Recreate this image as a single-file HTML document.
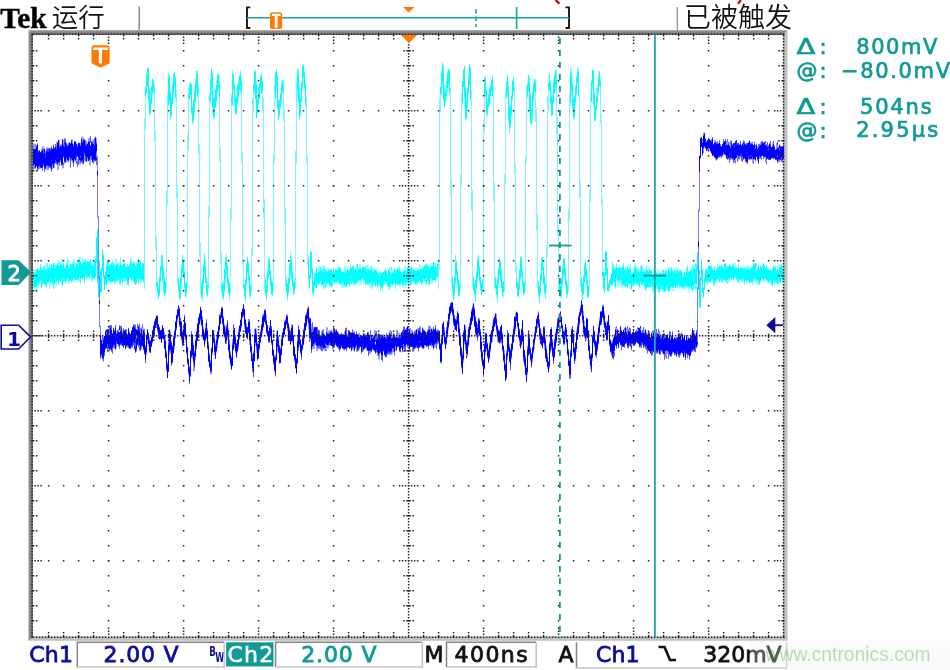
<!DOCTYPE html>
<html><head><meta charset="utf-8"><title>Tek</title>
<style>html,body{margin:0;padding:0;background:#fff;}body{width:950px;height:670px;overflow:hidden;position:relative;}svg{position:absolute;left:0;top:0;filter:blur(0.45px);}</style>
</head><body>
<svg width="950" height="670" viewBox="0 0 950 670">

<defs>
<linearGradient id="gt" x1="0" y1="0" x2="0" y2="1"><stop offset="0" stop-color="#b8b8b8"/><stop offset="0.3" stop-color="#8e8e8e"/><stop offset="1" stop-color="#727272"/></linearGradient>
<linearGradient id="gl" x1="0" y1="0" x2="1" y2="0"><stop offset="0" stop-color="#c0c0c0"/><stop offset="0.25" stop-color="#8e8e8e"/><stop offset="1" stop-color="#727272"/></linearGradient>
</defs>
<rect x="782.8" y="30" width="4.7" height="610.8" fill="#c2c2c2"/>
<rect x="28.3" y="636.4" width="759.2" height="4.4" fill="#c2c2c2"/>
<path d="M28.3 30H787.5L782.8 34.9H32.9Z" fill="url(#gt)"/>
<path d="M28.3 30L32.9 34.9V636.4L28.3 640.8Z" fill="url(#gl)"/>

<g stroke-width="1" fill="none"><path stroke="#a6ffff" d="M33.5 269.0V287.3M34.5 269.3V288.4M35.5 269.3V291.2M36.5 268.0V289.7M37.5 268.0V289.0M38.5 270.0V289.0M39.5 269.8V285.0M40.5 263.9V284.2M41.5 266.3V287.6M42.5 268.0V287.6M43.5 265.8V284.0M44.5 265.8V285.0M45.5 263.3V287.6M46.5 263.3V287.6M47.5 263.2V283.3M48.5 266.6V284.6M49.5 264.2V288.6M50.5 264.2V285.0M51.5 264.6V285.0M52.5 263.0V284.5M53.5 262.0V289.2M54.5 264.8V288.4M55.5 264.8V288.4M56.5 265.0V284.8M57.5 262.9V283.0M58.5 260.2V284.2M59.5 260.2V265.0M59.5 266.0V281.3M60.5 262.6V281.4M61.5 260.7V284.5M62.5 259.1V286.8M63.5 263.1V282.3M64.5 267.9V283.4M65.5 267.6V283.4M66.5 261.6V281.8M67.5 258.5V279.9M68.5 259.9V284.4M69.5 259.9V284.4M70.5 263.2V281.2M71.5 263.2V282.5M72.5 262.0V280.6M73.5 259.2V281.2M74.5 259.2V280.3M75.5 262.6V280.2M76.5 264.0V280.0M77.5 259.3V279.9M78.5 261.5V281.8M79.5 257.4V281.0M80.5 256.8V284.2M81.5 256.8V278.4M82.5 258.8V278.5M83.5 259.9V279.1M84.5 259.0V283.5M85.5 259.0V275.5M86.5 259.4V277.7M87.5 261.2V278.4M88.5 261.3V279.1M89.5 261.3V279.1M90.5 258.9V281.1M91.5 258.9V281.1M92.5 264.1V281.8M93.5 263.4V279.5M94.5 260.9V278.8M95.5 256.2V276.7M96.5 236.9V262.5M97.5 229.5V283.9M98.5 273.4V297.7M99.5 260.5V276.6M100.5 270.4V293.2M101.5 267.5V293.2M102.5 250.2V271.5M103.5 253.3V278.5M104.5 275.0V290.3M105.5 271.0V284.3M106.5 259.7V286.0M107.5 259.7V284.6M108.5 260.5V284.4M109.5 260.5V284.4M110.5 263.1V282.5M111.5 262.7V282.2M112.5 259.8V282.2M113.5 262.4V281.7M114.5 263.8V285.0M115.5 258.1V285.0M116.5 258.1V280.8M117.5 262.7V282.0M118.5 261.6V282.0M119.5 261.6V285.9M120.5 257.8V285.9M121.5 265.1V280.0M122.5 263.6V286.5M123.5 261.7V281.8M124.5 261.7V281.2M125.5 263.1V281.2M126.5 266.9V284.9M127.5 264.0V284.9M128.5 265.4V286.4M129.5 264.0V277.9M130.5 257.6V277.9M131.5 257.6V280.8M132.5 261.8V280.1M133.5 261.2V281.7M134.5 262.4V284.2M135.5 262.5V285.0M136.5 262.5V284.3M137.5 261.5V282.5M138.5 258.8V285.0M139.5 261.3V280.4M140.5 260.9V283.2M141.5 263.8V281.5M142.5 263.0V280.0M143.5 263.0V281.8M144.5 264.4V286.4M145.5 86.0V115.1M146.5 73.0V94.4M147.5 67.4V87.2M148.5 68.0V105.1M149.5 88.7V115.2M150.5 91.1V113.7M151.5 86.7V103.9M152.5 78.7V99.3M153.5 80.5V92.6M154.5 83.8V103.0M155.5 180.4V199.1M155.5 200.0V210.2M156.5 272.7V287.8M157.5 281.7V294.2M158.5 285.2V298.7M159.5 273.2V296.8M160.5 264.6V286.8M161.5 254.9V275.4M162.5 254.9V283.3M163.5 267.0V293.8M164.5 277.1V296.5M165.5 281.0V294.8M166.5 274.9V289.0M167.5 99.1V111.7M168.5 73.4V105.2M169.5 74.5V104.7M170.5 91.0V119.5M171.5 94.3V116.5M172.5 82.8V106.3M173.5 72.8V100.3M174.5 72.5V87.8M175.5 75.9V102.7M176.5 88.7V95.3M176.5 95.7V104.9M177.5 183.9V192.3M177.5 194.1V208.5M177.5 274.8V286.4M178.5 276.2V291.7M179.5 282.7V300.1M180.5 278.0V300.1M181.5 264.2V287.7M182.5 254.9V276.8M183.5 259.7V278.1M184.5 269.2V289.6M185.5 282.5V297.2M186.5 281.5V297.1M187.5 277.5V288.1M188.5 87.8V115.0M189.5 83.0V100.6M190.5 81.9V96.5M191.5 84.1V114.6M192.5 104.0V124.3M193.5 98.2V122.5M194.5 89.6V115.4M195.5 78.3V103.6M196.5 70.8V92.7M197.5 71.0V97.9M198.5 84.2V102.5M200.5 275.3V294.0M201.5 281.0V297.8M202.5 278.1V300.1M203.5 258.4V288.9M204.5 253.6V274.9M205.5 260.9V282.8M206.5 273.7V295.3M207.5 280.9V296.3M208.5 276.5V290.9M209.5 92.9V111.6M210.5 78.7V104.1M211.5 69.0V95.8M212.5 72.6V114.6M213.5 93.3V119.9M214.5 95.4V119.9M215.5 86.9V108.1M216.5 80.6V102.6M217.5 72.9V93.8M218.5 72.9V89.3M219.5 75.2V110.7M220.5 192.1V216.3M221.5 275.1V293.5M222.5 280.6V297.1M223.5 280.5V300.0M224.5 268.5V291.7M225.5 253.9V281.3M226.5 253.9V274.0M227.5 264.3V288.6M228.5 274.3V294.0M229.5 282.5V299.8M230.5 279.2V294.7M231.5 93.4V113.7M232.5 70.6V105.6M233.5 73.7V90.8M234.5 82.6V106.8M235.5 95.2V115.1M236.5 96.5V115.1M237.5 83.8V105.1M238.5 79.6V100.1M239.5 75.0V94.7M240.5 70.3V94.8M241.5 76.1V110.9M242.5 199.2V218.9M243.5 274.9V290.2M244.5 283.9V298.8M245.5 276.2V301.9M246.5 262.3V287.0M247.5 256.8V273.8M248.5 260.3V282.9M249.5 274.3V296.2M250.5 283.5V298.3M251.5 277.7V292.8M252.5 98.6V117.8M253.5 83.4V105.8M254.5 69.7V96.1M255.5 71.3V99.4M256.5 80.0V118.1M257.5 97.0V114.2M258.5 87.4V106.6M259.5 82.8V99.4M260.5 75.6V90.0M261.5 72.7V94.4M262.5 79.3V106.8M263.5 189.3V217.8M264.5 276.5V278.2M264.5 278.9V287.7M265.5 276.5V296.0M266.5 283.3V300.6M267.5 268.3V292.8M268.5 257.8V278.6M269.5 258.5V275.6M270.5 270.3V286.8M271.5 278.0V294.8M272.5 279.6V296.0M273.5 277.0V291.7M274.5 86.3V114.0M275.5 72.2V99.8M276.5 68.9V94.0M277.5 75.7V108.5M278.5 99.0V119.8M279.5 99.1V116.9M280.5 92.8V110.3M281.5 80.0V104.1M282.5 80.0V92.4M283.5 79.4V104.3M285.5 262.9V287.1M286.5 275.6V293.2M287.5 283.3V300.2M288.5 277.3V295.9M289.5 260.7V287.6M290.5 252.7V277.0M291.5 252.7V280.2M292.5 266.0V287.4M293.5 281.2V294.7M294.5 277.9V294.4M295.5 277.9V288.4M296.5 77.6V113.7M297.5 68.9V98.1M298.5 68.6V104.3M299.5 84.7V120.3M300.5 94.6V116.3M301.5 81.2V102.9M302.5 65.1V89.8M303.5 63.9V79.9M304.5 69.6V88.9M305.5 81.8V107.9M307.5 249.6V266.9M308.5 254.5V281.0M309.5 273.9V288.4M310.5 251.3V279.5M311.5 251.3V276.5M312.5 267.9V295.8M313.5 281.8V295.8M314.5 272.5V290.8M315.5 272.5V288.3M316.5 267.3V288.3M317.5 267.6V284.9M318.5 266.3V285.2M319.5 266.2V285.2M320.5 266.2V284.4M321.5 267.0V285.6M322.5 266.0V286.5M323.5 265.9V288.4M324.5 265.9V287.5M325.5 268.4V288.8M326.5 270.5V287.0M327.5 271.1V287.0M328.5 268.5V283.7M329.5 268.5V287.6M330.5 269.2V287.6M331.5 269.2V287.8M332.5 271.3V287.8M333.5 268.2V283.1M334.5 270.4V284.2M335.5 269.0V284.2M336.5 269.0V283.4M337.5 268.3V282.4M338.5 266.5V284.3M339.5 266.5V284.3M340.5 267.3V285.4M341.5 268.9V287.8M342.5 271.3V287.8M343.5 270.7V287.8M344.5 266.2V287.0M345.5 266.2V287.6M346.5 270.9V287.6M347.5 265.9V286.0M348.5 265.9V284.4M349.5 268.9V286.8M350.5 264.3V283.5M351.5 266.4V285.0M352.5 266.3V283.2M353.5 265.5V286.5M354.5 268.8V286.5M355.5 268.8V284.8M356.5 263.9V284.1M357.5 263.9V284.9M358.5 266.3V284.9M359.5 264.2V280.9M360.5 264.2V285.1M361.5 267.7V285.1M362.5 266.1V279.8M363.5 266.1V284.3M364.5 266.7V284.3M365.5 266.7V286.1M366.5 264.9V286.1M367.5 264.6V284.8M368.5 264.6V285.7M369.5 269.4V287.8M370.5 265.9V287.8M371.5 265.9V289.0M372.5 266.2V287.3M373.5 268.4V271.0M373.5 272.0V285.7M374.5 269.6V285.6M375.5 267.7V286.6M376.5 267.7V284.7M377.5 272.9V287.8M378.5 272.9V286.4M379.5 270.2V285.4M380.5 272.2V290.7M381.5 270.9V288.3M382.5 272.3V290.7M383.5 270.6V285.6M384.5 270.2V285.3M385.5 269.3V284.0M386.5 270.7V282.2M387.5 274.2V286.1M388.5 269.5V290.1M389.5 267.4V288.6M390.5 267.7V287.1M391.5 266.6V271.4M391.5 272.5V287.2M392.5 270.2V287.2M393.5 272.5V285.1M394.5 268.3V284.1M395.5 268.3V288.9M396.5 269.5V284.9M397.5 267.9V284.6M398.5 265.6V284.8M399.5 265.6V287.0M400.5 270.6V287.0M401.5 271.7V285.1M402.5 269.6V288.3M403.5 269.6V288.3M404.5 265.2V288.2M405.5 265.2V288.2M406.5 267.1V285.9M407.5 267.1V284.3M408.5 267.2V284.3M409.5 265.5V286.7M410.5 265.5V286.7M411.5 266.1V284.1M412.5 268.1V280.9M413.5 268.1V283.5M414.5 270.1V283.2M415.5 270.5V284.5M416.5 270.9V283.6M417.5 267.8V285.0M418.5 267.9V282.2M419.5 264.8V284.2M420.5 268.6V284.2M421.5 268.3V285.8M422.5 268.1V282.7M423.5 266.4V282.6M424.5 265.5V281.1M425.5 263.2V285.6M426.5 263.2V285.6M427.5 263.9V281.4M428.5 264.3V285.0M429.5 264.3V284.5M430.5 262.9V279.2M431.5 262.9V283.8M432.5 262.7V283.8M433.5 262.3V281.6M434.5 262.4V280.7M435.5 262.4V281.7M436.5 266.4V279.0M437.5 262.4V277.8M438.5 262.1V286.1M439.5 96.8V107.3M439.5 109.0V116.4M440.5 85.8V106.3M441.5 70.8V95.9M442.5 62.5V85.6M443.5 65.1V100.8M444.5 83.4V107.4M445.5 88.0V104.7M446.5 80.5V100.2M447.5 71.6V92.6M448.5 68.5V86.2M449.5 68.5V96.2M450.5 86.2V101.0M451.5 178.3V206.3M451.5 276.3V287.1M452.5 276.3V294.7M453.5 281.7V300.3M454.5 275.9V299.5M455.5 255.1V285.6M456.5 260.5V276.1M457.5 269.1V287.8M458.5 278.5V296.1M459.5 284.0V296.3M460.5 273.4V291.9M461.5 93.0V117.5M462.5 81.1V103.6M463.5 69.0V88.1M464.5 65.9V108.5M465.5 84.8V120.4M466.5 98.3V119.3M467.5 85.6V110.1M468.5 71.9V95.4M469.5 64.1V85.5M470.5 67.4V102.3M472.5 272.8V285.7M473.5 275.4V290.7M474.5 281.7V296.9M475.5 279.6V302.0M476.5 269.9V290.3M477.5 257.2V282.1M478.5 255.0V275.6M479.5 264.8V283.7M480.5 276.7V291.6M481.5 282.9V295.2M482.5 278.7V293.0M483.5 276.0V292.0M484.5 77.0V113.2M485.5 76.2V97.6M486.5 88.1V114.9M487.5 98.8V116.3M488.5 94.1V108.9M489.5 88.2V104.4M490.5 85.2V102.9M491.5 79.4V92.4M492.5 75.5V99.0M493.5 86.7V99.0M494.5 182.2V199.8M494.5 200.6V212.8M494.5 272.5V283.2M494.5 285.4V287.9M495.5 276.8V292.3M496.5 280.3V299.0M497.5 276.0V302.8M498.5 268.4V288.1M499.5 258.0V275.8M500.5 260.0V281.6M501.5 270.2V289.6M502.5 281.1V298.0M503.5 281.1V298.0M504.5 276.9V291.2M505.5 96.3V115.8M506.5 81.1V98.5M507.5 74.9V98.4M508.5 81.0V124.2M509.5 102.2V133.9M510.5 104.0V128.3M511.5 93.1V117.8M512.5 80.5V101.9M513.5 76.9V93.1M514.5 87.2V98.9M516.5 261.6V288.6M517.5 281.3V295.9M518.5 280.2V296.7M519.5 268.2V290.5M520.5 255.7V280.3M521.5 257.1V277.4M522.5 268.8V288.2M523.5 279.9V296.5M524.5 280.6V293.8M525.5 278.4V291.7M526.5 86.9V113.7M527.5 78.7V98.7M528.5 74.7V92.2M529.5 75.6V115.5M530.5 91.4V123.4M531.5 102.6V125.1M532.5 90.4V121.4M533.5 80.4V104.1M534.5 78.5V93.1M535.5 78.5V98.4M537.5 269.4V290.5M538.5 281.0V297.3M539.5 284.8V303.2M540.5 273.0V295.3M541.5 257.1V282.5M542.5 257.1V271.2M543.5 262.7V285.9M544.5 274.8V296.8M545.5 281.0V299.1M546.5 277.9V292.3M547.5 95.1V116.2M548.5 82.8V110.8M549.5 73.3V91.6M550.5 80.0V104.5M551.5 86.3V115.8M552.5 93.1V115.1M553.5 79.0V103.5M554.5 74.9V94.6M555.5 69.8V91.0M556.5 69.6V104.2M558.5 274.4V290.7M559.5 279.4V293.9M560.5 282.8V298.3M561.5 277.0V298.3M562.5 265.9V286.5M563.5 258.1V278.3M564.5 258.5V277.5M565.5 267.2V288.3M566.5 278.8V298.3M567.5 280.6V296.3M568.5 278.4V292.6M569.5 92.0V118.4M570.5 67.3V106.5M571.5 71.0V94.3M572.5 77.3V110.7M573.5 96.6V118.3M574.5 95.6V119.6M575.5 84.4V105.5M576.5 75.7V95.2M577.5 66.7V83.2M578.5 66.7V97.8M579.5 88.7V100.1M580.5 180.5V204.7M580.5 273.8V286.8M581.5 277.8V296.5M582.5 282.1V300.1M583.5 272.8V294.7M584.5 263.5V284.8M585.5 259.8V280.7M586.5 267.1V285.8M587.5 277.4V297.6M588.5 284.6V298.4M589.5 278.6V294.2M590.5 93.0V107.1M591.5 79.4V102.3M592.5 70.0V88.5M593.5 70.7V108.0M594.5 91.9V121.1M595.5 105.8V120.9M596.5 88.1V116.2M597.5 83.7V102.9M598.5 71.4V94.4M599.5 71.3V86.9M600.5 74.8V98.6M601.5 147.7V162.0M602.5 264.4V277.5M603.5 268.9V290.3M604.5 271.8V292.7M605.5 251.1V276.3M606.5 251.1V276.1M607.5 267.8V290.8M608.5 282.8V291.2M609.5 280.1V290.3M610.5 278.5V285.7M611.5 273.2V285.2M612.5 261.2V285.5M613.5 264.2V281.5M614.5 267.8V288.5M615.5 266.5V288.5M616.5 263.4V282.4M617.5 267.4V287.4M618.5 267.4V287.4M619.5 266.0V287.5M620.5 267.4V279.8M620.5 280.9V287.5M621.5 267.4V287.3M622.5 265.8V287.3M623.5 262.9V285.2M624.5 269.2V285.7M625.5 267.4V286.8M626.5 268.4V288.4M627.5 264.9V288.4M628.5 264.9V283.5M629.5 266.5V289.1M630.5 263.8V289.1M631.5 268.3V289.3M632.5 273.2V286.6M633.5 267.0V286.6M634.5 262.8V286.0M635.5 262.8V284.4M636.5 266.4V285.5M637.5 267.8V286.0M638.5 269.3V286.1M639.5 270.0V288.2M640.5 266.0V288.2M641.5 264.6V285.5M642.5 264.6V285.5M643.5 269.0V289.7M644.5 269.0V289.7M645.5 268.1V290.6M646.5 266.5V289.7M647.5 269.6V288.1M648.5 265.5V287.4M649.5 265.5V287.2M650.5 270.8V287.2M651.5 270.4V287.2M652.5 275.8V292.7M653.5 268.8V292.7M654.5 268.8V292.0M655.5 270.4V290.7M656.5 272.2V289.2M657.5 268.3V289.2M658.5 268.3V293.5M659.5 272.7V293.5M660.5 271.8V292.0M661.5 273.5V290.3M662.5 268.7V291.1M663.5 269.9V291.1M664.5 269.9V291.9M665.5 270.6V292.1M666.5 269.9V290.7M667.5 270.9V290.7M668.5 267.1V291.7M669.5 267.1V291.1M670.5 267.9V290.6M671.5 267.1V287.4M672.5 268.3V291.3M673.5 268.3V291.3M674.5 269.4V286.4M675.5 269.5V288.4M676.5 267.8V288.2M677.5 269.9V287.6M678.5 269.9V286.8M679.5 270.6V289.1M680.5 269.5V289.1M681.5 270.6V287.5M682.5 270.6V289.9M683.5 272.2V289.9M684.5 272.2V289.6M685.5 273.7V289.6M686.5 265.3V287.2M687.5 265.3V287.8M688.5 270.8V292.6M689.5 270.0V292.6M690.5 270.0V288.4M691.5 267.3V289.8M692.5 264.0V291.8M693.5 264.0V290.2M694.5 264.1V289.5M695.5 263.4V290.6M696.5 264.0V290.6M697.5 252.0V270.6M698.5 246.0V273.8M699.5 270.3V307.6M700.5 277.0V307.6M701.5 259.3V280.6M702.5 268.5V293.2M703.5 286.8V298.0M704.5 278.2V290.1M705.5 268.1V281.4M706.5 268.1V283.0M707.5 267.5V284.4M708.5 265.2V282.5M709.5 265.1V283.2M710.5 265.1V283.2M711.5 265.2V280.9M712.5 267.4V282.0M713.5 270.2V285.7M714.5 266.3V285.7M715.5 270.0V283.1M716.5 268.9V281.4M717.5 264.2V281.4M718.5 267.4V280.7M719.5 264.7V282.7M720.5 265.2V281.3M721.5 265.2V282.9M722.5 265.4V281.7M723.5 268.4V279.9M724.5 263.5V280.8M725.5 263.5V281.1M726.5 265.8V282.5M727.5 265.5V283.8M728.5 265.5V283.6M729.5 264.3V283.6M730.5 264.9V277.9M731.5 266.5V279.3M732.5 263.6V278.6M733.5 263.6V281.4M734.5 263.2V278.8M735.5 263.2V278.2M736.5 267.2V279.8M737.5 267.6V281.3M738.5 263.4V283.7M739.5 269.0V283.7M740.5 267.3V280.5M741.5 265.0V281.5M742.5 265.0V281.5M743.5 267.6V283.1M744.5 267.6V285.1M745.5 266.6V280.4M746.5 267.2V283.0M747.5 265.0V281.1M748.5 265.0V282.8M749.5 267.3V282.8M750.5 267.3V283.9M751.5 266.3V282.3M752.5 266.3V284.9M753.5 263.4V282.0M754.5 263.4V282.0M755.5 263.4V282.2M756.5 263.4V266.9M756.5 270.3V284.3M757.5 265.7V284.3M758.5 264.4V285.3M759.5 268.2V285.3M760.5 265.1V282.9M761.5 265.1V280.5M762.5 263.6V281.8M763.5 263.6V281.8M764.5 264.9V279.8M765.5 267.7V279.0M766.5 265.4V280.9M767.5 267.1V283.4M768.5 269.3V283.4M769.5 270.0V283.3M770.5 269.9V285.2M771.5 268.1V285.7M772.5 265.7V285.7M773.5 265.4V284.6M774.5 266.8V284.6M775.5 266.3V283.5M776.5 270.9V283.0M777.5 263.9V285.8M778.5 263.9V285.8M779.5 264.0V282.8M780.5 264.0V283.6M781.5 264.0V279.2M782.5 265.8V281.6M783.5 265.8V286.0"/><path stroke="#55ffff" d="M33.5 271.7V287.3M34.5 272.3V288.4M35.5 270.3V287.1M35.5 288.5V291.2M36.5 270.3V287.4M37.5 268.6V285.4M38.5 271.0V283.4M38.5 285.9V287.1M39.5 269.8V285.0M40.5 263.9V280.2M41.5 266.3V287.6M42.5 268.0V284.0M43.5 266.4V282.8M44.5 266.4V284.3M45.5 269.8V285.0M46.5 268.9V286.7M47.5 263.2V283.3M48.5 268.0V282.2M49.5 266.3V282.5M49.5 283.4V288.6M50.5 268.1V282.6M51.5 264.6V284.5M52.5 265.9V282.8M53.5 262.0V289.2M54.5 264.8V267.1M54.5 267.9V284.6M55.5 264.8V282.7M56.5 265.5V284.8M57.5 264.8V280.1M58.5 262.9V284.2M59.5 262.2V263.4M59.5 266.2V280.7M60.5 262.6V281.4M61.5 265.3V279.4M62.5 259.1V261.9M62.5 264.6V286.8M63.5 263.1V282.0M64.5 268.0V281.4M65.5 267.6V283.4M66.5 261.6V279.9M67.5 258.5V278.3M68.5 265.0V281.6M69.5 267.7V281.2M70.5 264.1V281.0M71.5 263.9V282.5M72.5 263.9V280.6M73.5 262.0V281.2M74.5 262.6V280.3M75.5 267.5V280.2M76.5 264.0V279.9M77.5 259.3V279.2M78.5 263.3V281.8M79.5 257.4V274.7M79.5 276.4V277.0M79.5 278.5V281.0M80.5 262.1V284.2M81.5 263.7V278.3M82.5 258.8V261.6M82.5 263.0V278.5M83.5 260.4V279.1M84.5 259.9V283.5M85.5 259.4V274.4M86.5 263.0V277.7M87.5 261.2V278.4M88.5 261.3V276.5M89.5 261.9V277.6M90.5 259.9V272.9M90.5 277.8V279.0M91.5 260.2V261.4M91.5 265.7V277.6M92.5 264.1V281.8M93.5 263.4V264.9M93.5 265.5V279.5M94.5 260.9V278.2M95.5 256.2V276.7M96.5 237.1V262.4M97.5 229.5V283.2M98.5 273.6V297.7M99.5 260.5V276.1M100.5 270.4V292.0M101.5 268.1V292.0M102.5 250.2V271.1M103.5 255.1V278.1M104.5 275.2V290.3M105.5 271.9V284.1M106.5 264.5V286.0M107.5 260.9V281.2M108.5 260.9V281.2M108.5 283.1V284.3M109.5 261.7V262.9M109.5 264.9V281.5M110.5 264.2V282.5M111.5 263.1V282.2M112.5 259.8V281.8M113.5 263.8V281.0M114.5 267.3V281.5M115.5 260.4V261.6M115.5 265.9V282.4M116.5 259.3V260.5M116.5 263.7V280.8M117.5 262.7V280.7M118.5 265.0V279.8M119.5 265.0V283.7M120.5 257.8V283.7M121.5 265.3V279.5M122.5 265.6V286.5M123.5 263.6V281.7M124.5 263.1V278.7M125.5 266.2V281.1M126.5 267.0V281.1M127.5 264.0V283.6M128.5 266.0V286.4M129.5 264.0V277.5M130.5 259.7V277.9M131.5 261.8V280.8M132.5 263.9V279.5M133.5 261.2V281.7M134.5 262.4V284.2M135.5 265.8V285.0M136.5 263.7V282.5M137.5 261.6V279.8M138.5 258.8V285.0M139.5 261.3V278.7M140.5 260.9V283.2M141.5 267.1V281.5M142.5 263.1V280.0M143.5 263.1V281.8M144.5 265.6V285.3M145.5 87.1V107.5M146.5 73.8V93.8M147.5 67.4V86.6M148.5 68.6V99.7M149.5 88.7V115.2M150.5 98.2V113.7M151.5 86.7V103.6M152.5 78.7V93.9M153.5 80.5V92.6M154.5 87.3V100.6M155.5 187.0V198.1M156.5 273.9V287.1M157.5 281.8V293.6M158.5 287.2V298.7M159.5 277.9V296.3M160.5 266.9V282.2M161.5 254.9V270.8M162.5 255.8V280.2M163.5 267.1V291.4M164.5 278.1V296.5M165.5 281.1V293.9M166.5 277.7V287.0M167.5 100.8V111.4M168.5 73.4V105.2M169.5 74.5V104.5M170.5 91.4V119.5M171.5 97.4V116.1M172.5 84.8V104.1M173.5 73.8V93.0M173.5 93.8V95.0M174.5 72.5V87.5M175.5 76.9V97.9M176.5 90.7V94.4M176.5 95.9V100.4M176.5 101.5V102.7M177.5 195.9V207.7M177.5 276.1V286.0M178.5 277.3V289.8M178.5 290.5V291.7M179.5 284.2V298.6M180.5 278.3V298.6M181.5 267.2V283.1M182.5 254.9V273.2M183.5 260.0V277.5M184.5 271.5V289.0M185.5 282.9V297.2M186.5 281.8V293.2M187.5 278.3V286.5M188.5 88.6V89.8M188.5 91.7V109.0M189.5 84.9V99.0M190.5 81.9V95.3M191.5 84.1V113.3M192.5 106.7V124.3M193.5 100.2V122.1M194.5 90.2V114.3M195.5 79.5V102.3M196.5 70.8V90.1M197.5 71.0V96.1M198.5 84.6V101.4M200.5 276.3V287.7M201.5 282.9V297.8M202.5 279.2V300.1M203.5 263.8V284.8M204.5 253.6V274.1M205.5 266.0V282.7M206.5 277.6V293.1M207.5 281.4V296.3M208.5 277.3V288.4M209.5 94.9V109.8M210.5 79.0V102.2M211.5 69.0V93.4M212.5 72.6V107.8M212.5 111.6V112.8M213.5 93.3V117.9M214.5 98.0V117.0M215.5 89.1V108.0M216.5 81.8V83.0M216.5 84.5V101.3M217.5 74.3V93.7M218.5 75.1V89.1M219.5 81.8V108.9M220.5 194.5V206.6M221.5 276.7V291.9M222.5 282.8V297.1M223.5 281.8V300.0M224.5 269.1V291.6M225.5 256.6V279.0M226.5 256.6V273.3M227.5 264.8V283.5M228.5 277.8V294.0M229.5 282.6V299.8M230.5 279.2V291.7M231.5 94.8V113.0M232.5 70.6V105.6M233.5 73.7V88.5M234.5 83.8V105.8M235.5 96.6V113.8M236.5 98.3V113.9M237.5 85.1V103.5M238.5 82.5V98.0M238.5 98.8V100.1M239.5 76.0V90.0M240.5 70.3V90.8M241.5 79.3V108.3M242.5 204.4V215.8M243.5 276.4V288.6M244.5 285.3V295.9M245.5 279.5V301.9M246.5 264.4V284.7M247.5 256.8V272.0M248.5 262.3V281.6M249.5 274.9V295.9M250.5 284.3V298.3M251.5 282.6V291.4M252.5 100.2V114.8M253.5 85.3V102.6M254.5 69.7V92.4M255.5 71.3V99.1M256.5 81.1V118.1M257.5 97.9V113.6M258.5 87.4V104.7M259.5 83.2V99.1M260.5 76.2V89.5M261.5 72.7V93.6M262.5 81.6V106.6M263.5 193.0V214.0M264.5 280.0V283.0M264.5 283.7V287.6M265.5 278.8V294.3M266.5 285.6V300.6M267.5 270.8V291.6M268.5 257.8V277.9M269.5 258.5V275.2M270.5 270.4V285.9M271.5 278.3V294.8M272.5 282.7V296.0M273.5 279.8V284.8M273.5 286.5V290.9M274.5 87.1V109.9M275.5 72.5V98.1M276.5 68.9V87.4M277.5 75.7V108.1M278.5 99.4V119.8M279.5 99.6V116.3M280.5 92.8V108.0M281.5 83.8V101.1M282.5 80.7V92.4M283.5 79.4V99.8M285.5 265.3V286.6M286.5 278.8V293.2M287.5 283.4V300.2M288.5 278.1V292.7M288.5 294.6V295.9M289.5 263.8V284.5M290.5 253.5V254.7M290.5 255.9V274.2M291.5 259.9V278.5M292.5 271.4V286.8M293.5 281.9V294.7M294.5 278.7V290.3M294.5 291.8V293.0M295.5 278.7V282.1M295.5 283.0V287.8M296.5 83.1V85.3M296.5 86.4V112.4M297.5 68.9V95.4M298.5 68.6V102.9M299.5 88.3V120.3M300.5 97.3V114.7M301.5 81.9V102.6M302.5 65.1V89.5M303.5 63.9V77.5M304.5 71.6V88.3M305.5 82.4V105.4M307.5 251.0V263.3M308.5 257.9V280.5M309.5 275.1V288.4M310.5 251.6V278.2M311.5 251.6V273.6M312.5 269.0V294.4M313.5 282.0V294.4M314.5 274.5V286.0M315.5 273.0V287.3M316.5 267.3V287.9M317.5 272.9V283.2M318.5 266.3V284.9M319.5 272.1V284.4M320.5 267.0V281.2M321.5 270.5V285.6M322.5 270.6V286.5M323.5 266.0V288.4M324.5 268.4V286.9M325.5 269.5V282.2M325.5 283.6V288.8M326.5 270.5V284.8M327.5 271.4V283.7M328.5 270.1V283.0M329.5 269.8V285.5M330.5 269.7V286.4M331.5 269.4V286.4M332.5 272.2V280.7M332.5 281.9V286.2M333.5 268.2V282.3M334.5 271.8V282.5M335.5 269.5V282.2M336.5 269.5V283.4M337.5 268.3V280.8M338.5 267.2V282.3M339.5 267.2V283.7M340.5 267.3V285.4M341.5 271.1V283.4M342.5 271.3V287.8M343.5 272.1V284.6M344.5 269.2V287.0M345.5 270.9V287.0M346.5 271.6V287.0M347.5 269.7V284.4M348.5 270.5V283.8M349.5 269.5V286.8M350.5 264.3V282.3M351.5 267.0V285.0M352.5 266.3V282.5M353.5 265.5V283.4M354.5 270.5V284.8M355.5 269.7V283.4M356.5 269.3V284.1M357.5 263.9V281.2M358.5 267.4V268.6M358.5 269.2V281.2M359.5 265.7V266.9M359.5 267.6V280.6M360.5 267.6V282.0M361.5 269.5V279.7M362.5 267.2V278.4M363.5 267.1V279.8M364.5 267.1V280.5M365.5 266.7V284.6M366.5 264.9V267.9M366.5 270.6V283.6M367.5 268.6V284.8M368.5 269.3V285.7M369.5 269.4V283.4M370.5 270.4V282.9M371.5 266.2V289.0M372.5 268.4V287.3M373.5 269.2V270.4M373.5 272.0V285.7M374.5 269.6V283.0M375.5 269.6V286.6M376.5 270.4V284.7M377.5 273.2V287.8M378.5 273.2V286.4M379.5 270.2V273.4M379.5 274.9V285.1M380.5 273.2V290.7M381.5 270.9V273.7M381.5 274.1V288.3M382.5 272.5V290.7M383.5 271.9V285.3M384.5 270.6V284.2M385.5 269.3V284.0M386.5 270.7V282.2M387.5 274.4V286.1M388.5 269.5V290.1M389.5 267.4V288.6M390.5 267.7V270.2M390.5 271.6V284.8M390.5 285.3V287.1M391.5 266.6V270.2M391.5 272.9V284.3M391.5 285.9V287.1M392.5 271.1V284.4M393.5 272.5V285.1M394.5 268.9V282.9M395.5 268.9V288.9M396.5 270.9V284.1M397.5 267.9V284.6M398.5 268.6V284.8M399.5 268.1V284.5M400.5 270.8V284.5M401.5 271.9V273.1M401.5 273.5V281.7M402.5 271.7V276.2M402.5 276.8V285.6M403.5 270.6V285.6M404.5 270.3V285.3M405.5 270.3V285.3M406.5 270.7V285.9M407.5 267.2V282.5M408.5 268.3V281.6M409.5 268.2V281.6M410.5 268.2V285.4M411.5 266.1V284.1M412.5 268.1V269.8M412.5 270.2V280.9M413.5 268.1V283.5M414.5 270.5V283.2M415.5 271.0V284.5M416.5 271.0V283.6M417.5 267.8V285.0M418.5 270.4V281.2M419.5 264.8V269.1M419.5 270.4V281.2M420.5 268.6V282.5M421.5 269.5V285.8M422.5 268.1V282.7M423.5 266.4V278.7M424.5 265.5V281.1M425.5 264.2V281.3M426.5 265.9V279.0M426.5 280.1V283.6M427.5 263.9V281.1M428.5 266.2V285.0M429.5 268.8V284.5M430.5 267.1V278.7M431.5 265.9V279.2M432.5 266.6V281.6M433.5 262.3V279.9M434.5 266.4V280.1M435.5 266.9V281.7M436.5 267.5V269.8M436.5 270.5V276.0M436.5 276.7V279.0M437.5 264.3V277.8M438.5 262.1V263.6M438.5 264.8V282.8M439.5 100.4V107.1M439.5 109.8V115.2M440.5 86.9V104.3M441.5 71.2V95.1M442.5 62.5V83.8M443.5 65.1V99.0M444.5 84.8V86.0M444.5 86.8V107.4M445.5 90.0V91.2M445.5 91.7V101.8M446.5 81.4V96.2M447.5 73.0V87.8M447.5 90.4V91.6M448.5 69.8V84.7M449.5 70.5V93.5M450.5 87.9V93.1M451.5 179.8V201.5M451.5 276.7V284.2M452.5 276.7V290.7M453.5 285.1V300.3M454.5 276.8V294.6M455.5 255.1V284.6M456.5 260.5V276.0M457.5 269.4V286.6M458.5 278.6V296.1M459.5 284.4V296.3M460.5 278.1V289.0M461.5 97.9V115.0M462.5 81.1V103.1M463.5 69.0V87.7M464.5 65.9V99.7M465.5 87.7V120.4M466.5 99.0V119.3M467.5 87.7V107.2M468.5 75.9V93.4M469.5 64.1V84.1M470.5 67.4V98.6M472.5 274.5V280.0M472.5 280.5V285.5M473.5 276.4V290.7M474.5 283.5V294.0M475.5 279.8V302.0M476.5 271.8V289.3M477.5 260.9V278.2M478.5 255.0V275.2M479.5 267.0V281.3M480.5 277.1V290.4M481.5 282.9V295.2M482.5 279.2V292.0M483.5 278.7V284.9M483.5 285.7V288.3M484.5 77.0V107.6M485.5 76.2V95.7M486.5 89.4V114.9M487.5 101.9V116.3M488.5 94.5V108.3M489.5 88.2V104.4M490.5 85.4V96.3M491.5 79.6V91.3M492.5 75.5V96.8M493.5 87.2V98.5M494.5 187.3V196.1M494.5 275.1V281.2M495.5 277.0V288.1M496.5 284.6V295.1M497.5 278.9V296.5M497.5 297.8V302.8M498.5 268.4V284.8M499.5 258.0V275.5M500.5 260.9V280.2M501.5 270.5V288.2M502.5 282.2V295.8M503.5 281.4V292.4M504.5 279.8V291.1M505.5 96.9V106.7M505.5 107.7V114.5M506.5 82.1V98.1M507.5 74.9V96.2M508.5 81.0V83.1M508.5 85.6V122.3M509.5 104.2V133.9M510.5 105.8V127.7M511.5 95.9V115.1M512.5 80.5V98.4M513.5 76.9V92.5M514.5 87.4V97.0M516.5 267.3V287.9M517.5 282.5V295.9M518.5 282.3V296.7M519.5 269.0V289.3M520.5 255.7V279.4M521.5 257.4V276.9M522.5 270.4V286.4M523.5 281.1V296.5M524.5 281.8V293.8M525.5 278.6V289.0M526.5 86.9V111.5M527.5 82.5V98.0M528.5 74.7V91.9M529.5 77.8V110.6M530.5 93.9V123.4M531.5 108.4V125.1M532.5 93.1V119.1M533.5 84.1V101.7M534.5 79.5V92.3M535.5 81.0V98.2M537.5 269.9V286.4M538.5 281.9V295.8M539.5 286.2V303.2M540.5 273.9V293.2M541.5 257.5V281.0M542.5 257.5V271.0M543.5 266.5V284.6M544.5 275.1V292.2M545.5 283.0V294.7M545.5 295.6V299.1M546.5 279.1V292.2M547.5 96.9V101.3M547.5 103.7V104.9M547.5 105.5V116.1M548.5 83.5V106.7M549.5 73.3V89.6M550.5 80.8V103.3M551.5 96.1V115.8M552.5 98.3V115.1M553.5 80.4V103.5M554.5 75.3V92.9M555.5 69.8V88.2M556.5 69.6V71.5M556.5 71.9V101.9M558.5 279.4V284.8M558.5 285.3V289.1M559.5 281.0V292.6M560.5 285.2V297.0M561.5 279.2V297.0M562.5 266.1V285.5M563.5 258.1V276.6M564.5 258.5V275.2M565.5 268.5V286.2M566.5 280.4V298.3M567.5 285.5V295.0M568.5 280.6V290.4M569.5 95.2V106.3M570.5 67.3V103.0M571.5 71.0V91.2M572.5 81.6V108.9M573.5 99.5V118.3M574.5 96.2V119.6M575.5 86.3V105.3M576.5 76.3V94.5M577.5 71.0V83.0M578.5 69.7V96.3M579.5 91.6V92.8M579.5 93.3V99.5M580.5 187.9V197.8M580.5 277.6V280.1M580.5 282.1V282.4M580.5 283.1V284.2M581.5 278.0V292.3M582.5 283.7V300.1M583.5 276.8V294.7M584.5 264.3V282.8M585.5 259.8V276.4M586.5 269.5V285.6M587.5 280.0V297.6M588.5 285.6V298.4M589.5 279.2V289.5M590.5 94.8V106.9M591.5 80.9V101.9M592.5 70.0V88.2M593.5 70.7V104.7M594.5 92.9V121.1M595.5 106.0V120.9M596.5 95.9V109.7M597.5 84.8V102.9M598.5 75.3V93.6M599.5 71.3V85.6M600.5 79.4V98.6M601.5 147.8V161.8M602.5 266.6V276.6M603.5 272.2V289.7M604.5 273.0V292.7M605.5 251.8V276.0M606.5 251.8V275.0M607.5 267.8V290.7M608.5 283.2V291.2M609.5 280.5V287.9M610.5 278.5V285.7M611.5 273.4V284.2M612.5 261.2V285.5M613.5 264.2V281.5M614.5 269.2V282.9M615.5 266.5V287.2M616.5 263.4V279.6M617.5 267.8V281.1M618.5 267.9V281.4M619.5 266.0V281.4M619.5 283.7V284.9M620.5 268.4V279.4M620.5 280.9V282.4M621.5 268.3V270.0M621.5 270.6V283.5M622.5 265.8V285.9M623.5 262.9V285.0M624.5 269.6V285.7M625.5 267.4V286.8M626.5 270.4V286.7M627.5 267.2V287.2M628.5 269.3V283.5M629.5 269.2V284.3M630.5 263.8V267.7M630.5 268.3V283.7M631.5 273.0V289.3M632.5 273.5V285.7M633.5 271.9V286.0M634.5 266.7V268.8M634.5 269.5V284.4M635.5 266.4V284.4M636.5 267.8V284.4M637.5 269.3V285.5M638.5 269.5V286.0M639.5 272.2V286.4M640.5 266.0V283.1M641.5 266.2V284.3M642.5 266.2V285.2M643.5 271.6V282.7M644.5 271.6V286.8M645.5 272.3V290.6M646.5 266.5V289.7M647.5 270.0V286.9M648.5 270.7V287.4M649.5 269.6V286.9M650.5 270.8V286.9M651.5 270.4V285.8M652.5 275.8V287.3M652.5 288.1V289.3M653.5 273.3V274.5M653.5 275.7V292.0M654.5 273.9V290.7M655.5 270.4V289.9M656.5 273.1V286.1M657.5 272.2V288.4M658.5 273.0V291.9M659.5 273.0V292.0M660.5 271.8V288.9M661.5 273.5V288.9M662.5 268.7V290.3M663.5 270.7V290.7M664.5 273.4V291.9M665.5 270.6V292.1M666.5 269.9V287.5M667.5 273.4V289.4M668.5 269.2V291.7M669.5 269.2V290.6M670.5 267.9V269.5M670.5 270.6V287.4M671.5 267.1V287.0M672.5 270.9V288.0M673.5 271.8V287.3M673.5 288.8V290.0M674.5 269.4V286.4M675.5 269.5V271.7M675.5 272.9V288.4M676.5 267.8V285.2M677.5 269.9V287.6M678.5 272.2V283.6M679.5 270.6V286.2M679.5 287.1V288.3M680.5 269.5V286.9M681.5 271.3V286.9M682.5 273.8V275.0M682.5 276.8V287.9M683.5 276.2V287.2M684.5 272.6V287.4M685.5 273.7V286.5M686.5 269.7V287.2M687.5 267.1V287.8M688.5 271.8V286.7M689.5 270.8V288.5M690.5 270.8V286.4M691.5 267.3V289.8M692.5 271.3V273.8M692.5 274.8V291.8M693.5 264.1V290.2M694.5 268.6V284.6M695.5 263.4V284.7M695.5 286.3V289.5M696.5 264.0V288.2M697.5 252.0V270.4M698.5 246.0V273.2M699.5 270.6V307.5M700.5 277.3V307.5M701.5 259.3V279.5M702.5 269.2V293.1M703.5 287.1V298.0M704.5 278.7V290.0M705.5 269.0V281.4M706.5 269.0V281.4M707.5 270.5V284.4M708.5 265.2V280.6M709.5 265.9V282.5M710.5 265.2V282.3M711.5 266.1V279.8M712.5 268.6V278.3M713.5 270.3V285.7M714.5 266.3V285.7M715.5 270.0V282.4M716.5 268.9V279.8M717.5 264.2V279.0M718.5 268.1V279.0M719.5 264.7V282.7M720.5 266.2V280.8M721.5 265.4V279.3M721.5 280.1V282.9M722.5 267.3V281.7M723.5 269.2V279.9M724.5 264.0V280.8M725.5 263.5V281.1M726.5 267.2V282.5M727.5 265.8V283.8M728.5 266.4V280.0M729.5 264.3V278.5M730.5 266.0V276.9M731.5 266.5V279.3M732.5 265.8V278.3M733.5 265.8V281.4M734.5 266.3V277.2M735.5 267.2V278.2M736.5 267.6V279.8M737.5 268.5V281.3M738.5 263.4V282.0M739.5 269.0V279.5M740.5 267.3V280.0M741.5 268.0V281.0M742.5 268.0V279.5M743.5 268.3V281.8M744.5 268.7V285.1M745.5 266.6V280.4M746.5 268.1V283.0M747.5 266.4V267.6M747.5 268.1V280.4M748.5 269.6V281.1M749.5 268.3V282.6M750.5 268.3V283.9M751.5 267.6V282.3M752.5 267.6V284.9M753.5 263.4V278.0M753.5 279.0V280.2M754.5 263.4V279.0M755.5 263.4V279.6M756.5 263.4V265.9M756.5 271.1V282.2M757.5 269.4V282.5M758.5 264.4V284.5M759.5 270.0V284.5M760.5 266.0V282.9M761.5 267.8V278.4M762.5 266.7V278.9M763.5 263.6V280.8M764.5 264.9V279.0M765.5 268.2V278.0M766.5 265.4V280.9M767.5 267.1V280.7M768.5 269.5V282.1M769.5 270.0V282.1M770.5 269.9V283.3M771.5 269.8V285.2M772.5 268.1V285.7M773.5 265.4V280.1M774.5 267.3V283.5M775.5 266.3V282.5M776.5 270.9V282.9M777.5 270.3V284.0M778.5 270.7V284.0M779.5 267.3V281.3M780.5 265.8V283.6M781.5 264.0V277.8M782.5 267.7V281.6M783.5 268.4V281.4"/><path stroke="#00ffff" d="M33.5 271.7V286.8M34.5 272.4V275.5M34.5 276.6V285.8M34.5 286.3V286.8M35.5 272.4V287.1M36.5 270.5V287.4M37.5 268.6V284.9M38.5 271.0V282.3M39.5 269.8V282.2M40.5 267.2V279.6M41.5 271.2V281.0M41.5 283.0V287.6M42.5 269.2V283.8M43.5 266.5V267.7M43.5 269.8V282.8M44.5 269.8V283.4M45.5 270.6V271.0M45.5 271.8V284.3M46.5 268.9V286.7M47.5 269.0V270.4M47.5 271.2V282.7M48.5 268.1V282.0M49.5 266.3V280.4M50.5 270.0V282.6M51.5 264.7V279.0M52.5 268.9V282.7M53.5 263.0V284.6M54.5 267.9V284.1M55.5 267.9V277.5M56.5 265.5V281.8M57.5 264.8V279.9M58.5 266.0V283.0M59.5 266.2V280.4M60.5 263.8V281.3M61.5 265.4V278.5M62.5 265.3V277.5M62.5 278.2V284.5M63.5 264.6V277.8M63.5 280.6V282.0M64.5 268.9V279.2M64.5 279.6V280.8M65.5 267.9V281.4M66.5 265.0V278.8M67.5 265.0V278.2M68.5 268.7V278.0M69.5 268.7V281.0M70.5 264.1V280.8M71.5 265.4V279.7M72.5 264.6V279.6M73.5 262.8V278.7M74.5 265.4V277.3M75.5 267.5V280.0M76.5 264.6V279.8M77.5 264.6V279.2M78.5 265.9V279.3M79.5 261.5V266.0M79.5 266.4V274.1M80.5 262.1V279.3M81.5 265.1V278.3M82.5 263.6V277.4M83.5 263.0V277.3M84.5 261.4V271.1M84.5 273.0V280.2M85.5 261.4V274.4M86.5 263.9V276.7M87.5 261.3V274.0M87.5 275.5V276.0M88.5 262.4V276.5M89.5 261.9V277.3M90.5 259.9V272.2M91.5 265.7V274.9M91.5 275.7V276.9M92.5 265.7V278.0M93.5 266.1V278.8M94.5 263.2V264.9M94.5 265.5V278.2M95.5 258.8V276.5M96.5 237.6V262.2M97.5 230.6V283.1M98.5 273.9V297.3M99.5 260.6V276.0M100.5 270.4V292.0M101.5 268.2V292.0M102.5 250.4V271.1M103.5 255.5V278.0M104.5 275.5V289.5M105.5 271.9V283.9M106.5 267.3V284.6M107.5 261.0V278.1M108.5 264.8V280.0M109.5 265.3V280.0M110.5 264.9V282.2M111.5 264.2V281.8M112.5 262.7V263.6M112.5 265.2V281.7M113.5 264.6V280.5M114.5 270.1V281.5M115.5 265.9V282.4M116.5 265.9V276.7M116.5 279.5V280.4M117.5 263.7V280.3M118.5 268.5V278.8M119.5 268.0V279.8M120.5 264.4V270.4M120.5 271.4V283.4M121.5 265.9V278.8M122.5 266.2V281.8M123.5 263.7V278.7M124.5 264.2V277.9M125.5 266.2V278.7M126.5 267.9V279.9M127.5 265.4V283.6M128.5 266.0V283.3M129.5 266.7V276.9M130.5 259.7V277.5M131.5 264.1V280.1M132.5 264.9V278.5M133.5 263.2V280.4M134.5 262.8V282.0M135.5 265.9V284.3M136.5 265.8V267.2M136.5 267.7V279.8M136.5 281.3V282.5M137.5 263.7V277.6M138.5 261.6V280.4M139.5 261.9V278.7M140.5 261.0V275.3M140.5 276.3V278.8M141.5 268.4V280.1M142.5 263.5V278.9M143.5 263.9V281.8M144.5 268.5V284.3M145.5 87.7V106.8M146.5 76.0V93.0M147.5 68.0V86.3M148.5 68.6V99.4M149.5 89.0V90.9M149.5 91.4V113.3M150.5 98.3V113.5M151.5 86.9V103.5M152.5 78.8V93.6M153.5 80.7V91.8M154.5 87.5V100.0M155.5 188.0V197.2M156.5 274.2V286.3M157.5 283.2V292.4M158.5 287.5V297.9M159.5 278.5V294.4M160.5 267.1V281.0M161.5 254.9V257.0M161.5 257.9V270.7M162.5 259.7V260.9M162.5 263.5V279.2M163.5 270.7V288.1M164.5 279.0V294.8M165.5 281.5V293.8M166.5 278.1V282.7M166.5 283.1V285.6M167.5 101.1V107.9M168.5 77.8V105.0M169.5 75.6V101.1M170.5 91.4V117.2M171.5 99.5V115.6M172.5 85.7V104.1M173.5 74.6V75.8M173.5 77.9V92.5M174.5 72.8V84.9M175.5 78.1V79.3M175.5 80.3V97.1M176.5 91.6V92.9M176.5 96.7V98.7M177.5 196.1V206.4M177.5 280.4V282.7M177.5 283.5V285.0M178.5 279.4V280.6M178.5 281.3V288.9M179.5 286.1V298.3M180.5 278.8V298.3M181.5 267.6V282.9M182.5 255.8V257.0M182.5 257.7V273.0M183.5 260.6V277.1M184.5 271.7V287.1M185.5 283.9V297.1M186.5 282.5V293.2M187.5 280.3V286.3M188.5 94.3V108.1M189.5 86.2V98.6M190.5 83.0V94.6M191.5 84.3V113.1M192.5 107.1V122.5M193.5 100.7V119.7M194.5 90.8V109.0M194.5 110.6V111.8M195.5 82.5V100.3M196.5 70.9V72.1M196.5 74.0V90.1M197.5 74.1V96.0M198.5 89.6V101.1M200.5 276.3V286.9M201.5 283.7V297.1M202.5 279.2V294.0M202.5 295.9V297.1M203.5 265.8V283.5M204.5 256.3V257.5M204.5 259.2V272.6M205.5 267.7V282.2M206.5 278.8V293.0M207.5 284.6V295.4M208.5 277.3V287.9M209.5 96.5V109.4M210.5 79.2V100.7M211.5 69.2V85.6M211.5 86.5V88.5M212.5 74.2V106.7M213.5 98.1V117.9M214.5 98.2V116.0M215.5 89.2V107.2M216.5 85.3V101.3M217.5 74.3V91.8M218.5 75.1V87.0M219.5 84.5V105.1M220.5 197.9V202.8M220.5 204.1V206.0M221.5 276.7V289.1M222.5 283.7V295.8M223.5 285.4V297.2M224.5 270.4V290.3M225.5 261.3V277.6M226.5 257.7V259.4M226.5 260.1V269.9M227.5 265.9V283.1M228.5 278.4V293.0M229.5 283.1V295.1M230.5 280.4V291.2M231.5 99.0V111.3M232.5 74.0V105.6M233.5 74.7V88.4M234.5 85.2V102.7M235.5 97.0V112.7M236.5 98.7V113.9M237.5 85.1V103.5M238.5 82.5V96.6M239.5 76.8V89.8M240.5 74.5V85.8M241.5 83.2V106.3M242.5 205.6V214.4M243.5 279.1V288.4M244.5 285.3V295.9M245.5 279.8V298.8M246.5 264.5V283.6M247.5 257.8V272.0M248.5 262.8V279.8M249.5 275.3V292.5M250.5 285.7V296.2M251.5 282.6V291.4M252.5 100.7V109.5M252.5 111.2V112.7M253.5 85.3V102.6M254.5 71.8V91.9M255.5 71.5V99.1M256.5 84.2V117.8M257.5 100.4V113.0M258.5 87.8V88.8M258.5 89.9V104.0M259.5 84.1V99.1M260.5 77.6V86.5M261.5 74.4V92.7M262.5 81.9V104.8M263.5 195.2V211.8M264.5 280.3V281.3M264.5 284.0V284.4M264.5 285.0V287.2M265.5 280.0V293.9M266.5 286.0V297.2M267.5 273.3V291.5M268.5 262.2V277.9M269.5 259.3V274.5M270.5 270.4V285.5M271.5 282.0V294.6M272.5 283.0V293.5M273.5 280.3V280.8M273.5 281.4V284.2M274.5 88.1V109.7M275.5 73.2V97.2M276.5 71.1V86.9M277.5 77.3V79.5M277.5 80.7V107.2M278.5 103.5V119.4M279.5 100.3V113.8M279.5 115.1V115.6M280.5 94.2V105.3M280.5 106.5V107.7M281.5 84.1V99.5M282.5 80.7V92.2M283.5 82.8V83.3M283.5 86.6V98.6M285.5 268.3V286.4M286.5 280.3V291.7M287.5 283.9V296.8M288.5 278.4V292.5M289.5 264.6V283.1M290.5 255.9V271.5M291.5 260.4V261.1M291.5 262.8V278.0M292.5 272.8V286.6M293.5 282.4V294.5M294.5 281.9V290.1M295.5 279.4V280.1M295.5 284.2V287.7M296.5 86.7V109.8M297.5 71.6V89.5M298.5 74.4V75.6M298.5 76.5V102.3M299.5 88.3V89.5M299.5 92.2V116.7M300.5 97.3V114.6M301.5 84.5V101.2M302.5 65.9V70.3M302.5 70.7V88.8M303.5 65.6V77.4M304.5 72.4V72.8M304.5 73.8V88.2M305.5 83.9V102.9M307.5 251.2V263.2M308.5 259.8V278.8M309.5 275.7V288.3M310.5 252.0V278.1M311.5 252.0V272.3M312.5 269.1V292.3M313.5 282.3V292.3M314.5 275.9V285.7M315.5 273.0V287.3M316.5 267.6V287.9M317.5 272.9V282.7M318.5 272.1V284.8M319.5 272.1V282.6M320.5 269.8V280.8M321.5 270.5V280.3M321.5 282.6V283.8M322.5 272.3V284.2M323.5 268.7V284.2M324.5 270.9V283.4M325.5 269.5V280.6M325.5 285.2V286.9M326.5 271.6V283.7M327.5 271.4V282.7M328.5 270.1V283.0M329.5 271.8V285.5M330.5 269.7V285.1M331.5 269.4V286.2M332.5 272.8V280.0M332.5 283.2V284.4M333.5 271.3V282.3M334.5 271.8V282.1M335.5 270.4V282.2M336.5 270.3V282.7M337.5 270.3V280.6M338.5 268.2V282.1M339.5 268.2V283.3M340.5 268.9V283.7M341.5 271.1V283.4M342.5 272.1V280.9M343.5 272.1V282.6M344.5 273.3V284.6M345.5 271.6V285.2M346.5 273.0V286.0M347.5 269.7V283.7M348.5 270.5V281.8M348.5 282.4V283.8M349.5 271.1V285.5M350.5 267.0V282.3M351.5 269.3V276.3M351.5 278.3V280.3M351.5 282.3V283.2M352.5 266.4V282.3M353.5 269.2V283.4M354.5 271.1V283.6M355.5 269.7V282.9M356.5 270.7V283.4M357.5 263.9V267.5M357.5 269.7V281.2M358.5 269.6V281.2M359.5 269.2V279.9M360.5 268.6V280.8M361.5 270.0V279.3M362.5 267.2V277.9M363.5 267.9V279.2M364.5 268.4V279.9M365.5 268.1V284.6M366.5 271.8V282.7M367.5 269.0V270.2M367.5 272.5V283.6M368.5 269.3V283.2M369.5 271.5V283.4M370.5 270.9V282.3M371.5 270.4V282.1M372.5 271.5V283.9M373.5 272.5V283.2M374.5 269.6V283.0M375.5 270.4V285.9M376.5 270.8V281.8M377.5 273.2V283.4M378.5 273.5V282.9M379.5 275.8V284.6M380.5 273.2V286.9M381.5 274.1V286.5M382.5 272.7V273.9M382.5 274.8V287.0M383.5 272.3V284.7M384.5 271.9V281.0M385.5 270.2V282.2M386.5 271.2V282.1M387.5 274.7V285.0M388.5 270.2V286.8M389.5 271.6V284.8M389.5 285.3V286.8M390.5 275.3V284.3M391.5 272.9V283.7M392.5 273.0V284.3M393.5 273.8V284.7M394.5 272.4V281.7M395.5 269.5V284.9M396.5 272.7V283.7M397.5 268.6V284.5M398.5 269.8V284.5M399.5 269.4V284.4M400.5 270.8V283.9M401.5 273.8V281.7M402.5 272.4V275.0M402.5 277.2V285.1M403.5 271.6V283.2M404.5 270.6V283.2M405.5 272.6V281.6M406.5 271.8V282.5M407.5 268.3V281.0M408.5 269.2V280.4M409.5 269.2V279.2M410.5 270.8V285.4M411.5 268.0V282.5M412.5 272.0V280.9M413.5 269.4V281.1M414.5 270.7V281.9M415.5 271.1V283.1M416.5 272.2V283.1M417.5 270.8V282.2M418.5 270.4V280.9M419.5 270.4V280.3M420.5 269.0V281.3M421.5 269.5V282.5M422.5 268.3V282.6M423.5 267.5V278.7M424.5 266.7V268.7M424.5 269.1V279.1M425.5 264.2V279.1M425.5 280.0V281.2M426.5 266.6V277.7M426.5 280.2V283.6M427.5 265.9V278.5M427.5 279.2V281.1M428.5 268.7V280.7M428.5 283.0V283.9M429.5 269.5V284.2M430.5 268.8V278.7M431.5 266.1V273.4M431.5 275.3V277.1M432.5 266.6V279.8M433.5 262.7V279.9M434.5 266.4V280.1M435.5 267.5V280.8M436.5 267.7V269.8M436.5 270.6V276.0M437.5 264.3V277.3M438.5 264.8V282.4M439.5 102.0V106.3M439.5 110.6V112.6M440.5 87.4V104.2M441.5 73.4V90.0M441.5 91.6V92.8M442.5 64.9V81.1M443.5 69.4V99.0M444.5 89.7V106.4M445.5 91.9V101.7M446.5 81.4V94.8M447.5 73.4V87.8M448.5 69.8V83.9M449.5 70.5V92.1M450.5 88.2V90.0M450.5 90.6V91.0M451.5 189.0V189.8M451.5 191.6V201.0M451.5 281.4V283.5M452.5 279.0V289.8M453.5 285.8V300.1M454.5 278.2V294.6M455.5 263.7V282.5M456.5 262.2V274.4M457.5 271.2V283.1M458.5 279.6V294.9M459.5 284.6V294.1M460.5 279.9V287.8M461.5 98.1V108.9M461.5 110.3V111.5M461.5 112.3V114.7M462.5 81.2V102.9M463.5 70.1V86.7M464.5 66.7V96.2M464.5 96.7V97.9M465.5 88.0V117.8M466.5 102.8V118.8M467.5 87.8V107.0M468.5 77.6V93.2M469.5 64.7V83.9M470.5 67.9V98.5M472.5 275.2V279.1M472.5 280.9V283.7M473.5 277.9V290.3M474.5 284.7V294.0M475.5 280.0V297.9M476.5 272.8V287.5M477.5 261.4V277.6M478.5 256.1V271.4M479.5 267.1V280.3M480.5 277.5V287.7M481.5 283.7V294.8M482.5 280.2V290.8M483.5 279.2V284.8M483.5 286.0V286.7M484.5 79.9V81.9M484.5 83.6V106.6M485.5 77.7V95.7M486.5 89.6V112.9M487.5 102.9V113.0M488.5 94.7V95.7M488.5 97.5V107.7M489.5 88.9V103.2M490.5 85.9V96.1M491.5 80.3V90.5M492.5 77.4V96.1M493.5 87.9V89.8M493.5 92.9V93.6M493.5 94.9V96.6M494.5 189.0V194.3M494.5 275.8V281.0M495.5 278.2V287.8M496.5 284.7V294.7M497.5 279.2V296.5M498.5 268.8V283.6M499.5 259.5V275.0M500.5 262.0V278.8M501.5 271.3V287.4M502.5 283.2V295.8M503.5 281.8V292.4M504.5 280.3V282.3M504.5 284.9V286.8M504.5 287.5V288.5M505.5 97.3V102.9M505.5 103.9V106.6M505.5 107.8V109.1M505.5 109.5V110.6M506.5 82.9V97.5M507.5 75.3V91.1M508.5 87.3V119.2M509.5 107.1V128.0M510.5 108.0V124.1M510.5 124.6V126.4M511.5 96.2V114.9M512.5 81.1V98.2M513.5 79.1V92.0M514.5 88.1V96.0M516.5 268.8V287.6M517.5 282.9V295.4M518.5 283.9V296.6M519.5 270.0V289.1M520.5 257.4V258.3M520.5 258.7V259.9M520.5 261.0V278.6M521.5 258.0V273.3M522.5 270.5V284.7M523.5 281.8V294.0M524.5 283.7V292.5M525.5 281.5V288.3M526.5 87.5V110.0M527.5 85.0V95.7M528.5 75.6V90.7M529.5 78.5V79.7M529.5 82.4V109.6M530.5 94.6V95.8M530.5 96.7V123.0M531.5 109.1V124.0M532.5 93.2V94.9M532.5 95.7V113.6M533.5 84.6V101.1M534.5 79.5V92.0M535.5 82.1V97.7M537.5 270.4V286.3M538.5 282.1V294.5M539.5 286.6V298.3M539.5 299.4V300.6M540.5 274.9V293.0M541.5 261.7V279.4M542.5 257.5V270.4M543.5 266.7V283.5M544.5 276.2V291.7M545.5 284.8V294.3M546.5 280.7V290.4M547.5 109.0V115.7M548.5 84.0V104.9M549.5 74.8V89.1M550.5 81.4V103.3M551.5 96.7V112.3M551.5 112.9V115.0M552.5 98.8V115.0M553.5 82.3V102.7M554.5 77.1V92.9M555.5 70.3V84.8M556.5 78.8V97.8M556.5 98.2V99.4M558.5 280.1V280.6M558.5 281.8V284.7M559.5 281.7V291.8M560.5 286.1V295.9M561.5 279.8V294.7M562.5 268.9V283.6M563.5 258.9V273.8M564.5 260.1V261.4M564.5 262.3V275.0M565.5 269.0V284.9M566.5 280.6V293.3M567.5 285.5V294.3M568.5 280.7V289.6M569.5 95.3V105.2M570.5 73.4V75.4M570.5 76.8V101.0M570.5 101.8V102.2M571.5 73.6V89.9M572.5 85.4V105.0M573.5 99.5V117.3M574.5 98.7V117.3M575.5 87.6V102.1M576.5 77.9V93.5M577.5 71.2V82.1M578.5 71.5V94.8M579.5 93.3V97.2M580.5 277.8V279.9M581.5 278.0V291.3M582.5 283.8V296.0M582.5 298.1V299.3M583.5 277.1V293.8M584.5 265.5V282.7M585.5 262.6V275.3M586.5 270.7V284.9M587.5 282.3V296.8M588.5 285.9V296.3M589.5 281.1V287.7M590.5 97.3V105.2M591.5 81.3V101.9M592.5 70.1V84.6M593.5 70.8V101.5M593.5 102.4V103.6M594.5 93.2V120.2M595.5 106.1V120.2M596.5 97.3V108.4M597.5 88.0V101.9M598.5 78.0V91.9M599.5 71.4V85.3M600.5 81.9V98.3M601.5 148.0V159.1M602.5 267.8V275.0M603.5 272.5V289.0M604.5 273.4V292.3M605.5 251.9V276.0M606.5 251.9V273.9M607.5 269.0V290.2M608.5 284.9V290.8M609.5 280.6V287.9M610.5 278.5V285.2M611.5 273.4V284.0M612.5 267.8V283.8M613.5 268.0V279.7M614.5 269.2V281.9M615.5 269.7V287.2M616.5 267.8V277.1M617.5 268.1V280.2M618.5 267.9V281.1M619.5 268.8V280.3M620.5 268.4V279.2M621.5 268.4V269.5M621.5 271.3V282.4M622.5 266.6V276.0M622.5 277.3V285.9M623.5 267.0V284.3M624.5 269.6V285.2M625.5 269.2V286.7M626.5 270.8V284.8M627.5 267.2V287.2M628.5 269.5V282.0M629.5 269.2V283.7M630.5 270.1V283.7M631.5 273.5V288.6M632.5 273.7V282.2M632.5 284.4V285.3M633.5 271.9V284.2M634.5 266.7V268.2M634.5 269.5V284.2M635.5 267.5V281.3M636.5 271.1V283.0M637.5 272.3V283.0M638.5 269.5V283.4M639.5 273.5V286.4M640.5 271.6V281.2M641.5 269.2V283.0M642.5 271.6V285.2M643.5 271.7V282.3M644.5 271.7V285.8M645.5 272.6V286.8M646.5 269.3V288.1M647.5 270.7V286.9M648.5 271.9V286.5M649.5 269.6V286.5M650.5 271.0V286.5M651.5 271.0V284.0M651.5 284.6V285.3M652.5 276.2V285.5M652.5 286.0V287.3M653.5 276.2V286.2M654.5 275.2V290.0M655.5 273.1V289.9M656.5 273.4V284.8M657.5 274.8V284.6M658.5 275.5V288.8M659.5 274.5V291.9M660.5 272.5V285.5M660.5 286.1V288.5M661.5 274.2V287.0M662.5 273.3V286.5M662.5 287.7V288.8M663.5 270.7V289.1M664.5 273.7V290.7M665.5 272.9V290.1M666.5 270.9V284.3M667.5 274.5V289.3M668.5 269.3V291.2M669.5 272.0V288.6M670.5 274.3V287.0M671.5 268.3V285.7M672.5 270.9V288.0M673.5 273.2V287.3M674.5 270.5V285.5M675.5 274.7V288.2M676.5 272.9V284.9M677.5 269.9V286.8M678.5 274.9V283.6M679.5 270.8V286.2M680.5 271.4V285.7M681.5 271.3V286.7M682.5 277.8V287.9M683.5 276.4V286.8M684.5 272.6V287.4M685.5 274.7V285.0M686.5 271.7V285.6M687.5 267.1V270.9M687.5 271.9V286.3M688.5 271.8V286.7M689.5 272.2V288.5M690.5 270.8V285.5M691.5 271.0V288.4M692.5 273.0V273.8M692.5 275.9V286.1M693.5 267.7V277.4M693.5 281.1V286.7M694.5 268.7V284.2M695.5 268.4V283.1M695.5 286.3V288.2M696.5 266.3V284.7M697.5 252.3V269.5M698.5 246.8V272.5M699.5 270.8V307.3M700.5 277.5V307.3M701.5 260.0V279.4M702.5 269.7V293.0M703.5 288.0V297.1M704.5 279.0V289.7M705.5 270.9V272.1M705.5 272.5V281.4M706.5 270.5V281.4M707.5 270.8V283.0M708.5 265.9V280.6M709.5 266.4V282.3M710.5 266.1V281.0M711.5 267.4V278.3M712.5 269.4V278.3M713.5 270.3V282.0M714.5 270.0V283.1M715.5 270.7V282.4M716.5 270.1V278.9M717.5 268.1V278.3M718.5 269.3V278.4M719.5 266.2V280.8M720.5 267.8V271.7M720.5 272.3V279.9M721.5 266.1V279.0M722.5 267.3V281.5M723.5 269.4V279.2M724.5 264.0V279.9M725.5 263.5V268.4M725.5 269.7V279.9M726.5 268.5V279.9M727.5 267.6V280.4M728.5 266.4V278.5M729.5 264.9V278.3M730.5 266.7V276.6M731.5 266.9V279.1M732.5 266.3V278.3M733.5 266.3V280.4M734.5 268.9V277.2M735.5 267.6V276.4M736.5 269.0V278.6M737.5 268.5V278.7M738.5 267.5V282.0M739.5 270.2V278.7M740.5 268.0V280.0M741.5 268.0V281.0M742.5 268.2V278.8M743.5 269.0V279.5M744.5 269.1V281.7M745.5 269.7V279.8M746.5 268.6V280.4M747.5 268.6V279.6M748.5 269.6V281.0M749.5 270.2V282.6M750.5 268.9V280.7M751.5 267.6V281.8M752.5 267.6V281.2M753.5 265.1V275.9M753.5 276.7V277.9M754.5 263.4V264.6M754.5 265.4V279.0M755.5 263.4V278.6M756.5 271.1V279.6M757.5 269.5V279.6M758.5 267.7V282.5M759.5 270.0V282.3M760.5 266.0V280.5M761.5 267.8V278.2M762.5 270.1V278.9M763.5 263.6V280.8M764.5 265.8V278.0M765.5 268.6V277.9M766.5 267.7V279.5M767.5 269.3V280.7M768.5 269.9V282.1M769.5 270.1V280.1M770.5 270.1V280.1M771.5 270.3V271.5M771.5 272.3V280.9M772.5 269.8V277.9M772.5 278.5V285.7M773.5 265.7V279.8M774.5 268.1V281.9M775.5 267.3V281.9M776.5 271.0V280.0M776.5 281.3V282.5M777.5 270.7V271.5M777.5 273.7V283.0M778.5 271.5V280.8M779.5 267.4V281.3M780.5 267.3V283.2M781.5 265.8V277.1M782.5 267.7V281.3M783.5 268.4V280.7"/><path stroke="#7ff7ff" d="M144.5 118.1V288.9M145.5 96.7V130.1M154.5 88.2V142.0M155.5 130.5V250.5M156.5 235.8V282.6M166.5 190.2V287.1M167.5 91.9V205.0M176.5 91.0V198.5M177.5 189.8V286.1M187.5 132.9V285.5M188.5 98.1V150.1M198.5 93.5V154.0M199.5 144.1V256.7M200.5 242.6V287.4M208.5 206.6V285.9M209.5 99.8V217.4M219.5 96.5V161.6M220.5 147.3V264.7M221.5 252.3V285.6M230.5 207.5V290.9M231.5 102.8V219.4M241.5 91.5V163.3M242.5 151.3V264.4M243.5 259.6V284.3M251.5 247.8V291.1M252.5 103.2V256.0M253.5 89.1V112.1M262.5 91.5V111.6M263.5 97.9V208.1M264.5 199.1V287.3M273.5 154.6V289.1M274.5 86.6V163.6M283.5 89.1V121.8M284.5 109.9V224.4M285.5 207.9V285.8M295.5 150.8V287.3M296.5 83.4V163.9M306.5 96.7V163.2M307.5 155.3V264.9M438.5 261.1V288.8M439.5 102.2V270.5M440.5 93.9V112.3M450.5 88.3V194.9M451.5 183.0V282.9M460.5 174.5V287.8M461.5 94.1V185.4M471.5 90.8V210.9M472.5 190.0V285.4M483.5 119.6V288.0M484.5 96.3V132.8M493.5 87.0V201.5M494.5 183.1V287.6M504.5 174.6V288.4M505.5 90.1V184.3M514.5 88.9V174.1M515.5 164.9V273.1M516.5 265.7V279.2M525.5 155.9V288.0M526.5 87.8V163.3M535.5 91.6V121.5M536.5 107.7V230.6M537.5 214.4V284.2M546.5 245.4V292.0M547.5 100.4V256.9M548.5 89.9V109.9M556.5 88.1V135.3M557.5 117.1V235.2M558.5 225.7V286.2M568.5 209.0V289.3M569.5 96.5V220.4M579.5 89.0V197.5M580.5 182.0V286.0M589.5 189.7V289.8M590.5 93.3V202.4M600.5 86.6V123.3M601.5 113.7V204.7M602.5 198.3V272.2"/><path stroke="#9a9aff" d="M33.5 143.1V171.5M34.5 143.8V168.5M35.5 143.8V168.5M36.5 144.8V166.2M37.5 143.4V170.9M38.5 150.7V169.4M39.5 150.2V169.0M40.5 151.9V169.0M41.5 148.8V167.8M42.5 146.3V170.5M43.5 146.3V166.4M44.5 148.6V171.6M45.5 150.4V169.7M46.5 147.5V169.7M47.5 147.5V170.1M48.5 148.2V170.1M49.5 148.1V168.1M50.5 148.1V168.4M51.5 146.4V171.5M52.5 148.9V169.2M53.5 144.5V168.4M54.5 147.1V168.4M55.5 144.0V164.0M56.5 141.5V164.8M57.5 141.5V170.1M58.5 139.8V170.1M59.5 139.8V165.5M60.5 144.2V161.9M61.5 144.2V165.6M62.5 138.8V168.3M63.5 139.7V158.1M63.5 162.4V168.3M64.5 138.0V163.6M65.5 138.0V163.0M66.5 142.5V162.5M67.5 143.4V161.4M68.5 142.7V161.8M69.5 142.5V160.3M70.5 143.3V167.4M71.5 139.4V160.5M72.5 139.4V163.0M73.5 143.9V166.7M74.5 141.4V161.2M75.5 141.4V161.2M76.5 143.6V163.8M77.5 144.4V157.1M77.5 158.4V166.6M78.5 142.8V164.4M79.5 142.8V164.6M80.5 142.8V164.6M81.5 136.5V163.0M82.5 136.5V164.4M83.5 138.1V164.4M84.5 139.8V160.7M85.5 139.8V161.9M86.5 141.0V161.9M87.5 142.4V160.9M88.5 138.1V161.0M89.5 138.1V165.4M90.5 136.0V143.0M90.5 145.4V165.4M91.5 141.2V160.0M92.5 139.6V163.0M93.5 139.6V163.4M94.5 138.1V161.6M95.5 136.7V161.6M96.5 138.1V164.9M97.5 168.6V178.4M98.5 258.7V272.4M99.5 298.2V305.5M100.5 333.6V358.6M101.5 340.0V357.2M102.5 335.2V359.1M103.5 337.4V361.3M104.5 336.2V356.1M105.5 330.2V349.4M106.5 329.6V348.7M107.5 329.1V352.1M108.5 329.4V348.7M109.5 325.4V333.5M109.5 334.2V350.3M110.5 325.3V349.8M111.5 325.3V351.5M112.5 333.3V353.6M113.5 327.7V347.7M114.5 330.4V348.4M115.5 325.1V349.9M116.5 331.5V348.4M117.5 330.0V344.1M118.5 329.1V346.4M119.5 325.5V330.3M119.5 332.1V348.6M120.5 326.1V344.8M121.5 325.9V345.4M122.5 331.6V346.1M123.5 328.4V348.0M124.5 330.2V345.1M125.5 329.6V349.2M126.5 329.1V347.5M127.5 333.7V346.8M128.5 328.1V347.9M129.5 331.6V348.8M130.5 333.7V349.0M131.5 330.3V347.5M132.5 327.0V347.6M133.5 324.5V345.1M134.5 324.5V349.5M135.5 324.8V352.8M136.5 329.4V351.3M137.5 323.9V345.1M138.5 325.6V347.2M139.5 323.8V350.2M140.5 328.3V351.1M141.5 327.0V349.5M142.5 324.3V346.2M143.5 328.6V350.3M144.5 328.6V354.6M145.5 345.1V363.0M146.5 334.2V355.0M147.5 329.6V343.7M148.5 331.5V346.3M149.5 337.1V352.6M150.5 340.2V352.8M151.5 337.0V346.9M152.5 329.7V343.6M153.5 325.0V336.3M154.5 320.8V335.8M155.5 317.7V328.0M156.5 315.2V327.9M157.5 315.2V331.7M158.5 324.6V338.3M159.5 326.9V339.4M160.5 330.2V339.1M161.5 329.6V343.0M162.5 325.1V339.0M163.5 328.0V340.0M164.5 332.3V349.3M165.5 337.0V358.4M166.5 349.7V371.5M167.5 361.9V377.9M168.5 338.3V371.9M169.5 329.4V354.5M170.5 331.0V353.4M171.5 340.4V365.6M172.5 345.4V363.1M173.5 336.0V353.5M174.5 330.4V349.4M175.5 321.1V338.6M176.5 314.7V330.4M177.5 309.1V322.5M178.5 305.4V316.4M179.5 307.4V327.0M180.5 317.2V335.9M181.5 321.0V340.7M182.5 330.5V346.3M183.5 323.7V344.3M184.5 314.9V337.1M185.5 322.6V340.5M186.5 333.8V354.4M187.5 346.9V364.7M188.5 358.1V374.9M189.5 366.2V384.2M190.5 350.1V377.3M191.5 331.3V358.2M192.5 334.6V358.7M193.5 342.7V371.3M194.5 349.9V371.3M195.5 338.5V359.7M196.5 329.7V349.2M197.5 323.2V341.3M198.5 316.9V334.1M199.5 312.9V324.6M200.5 306.8V321.9M201.5 309.7V326.5M202.5 315.9V338.8M203.5 326.6V340.9M204.5 331.9V347.2M205.5 323.0V342.0M206.5 319.6V339.4M207.5 328.1V349.6M208.5 341.2V362.0M209.5 353.1V367.6M210.5 360.0V374.4M211.5 347.3V374.4M212.5 329.9V355.4M213.5 330.3V343.5M214.5 337.4V355.3M215.5 342.2V358.8M216.5 336.9V352.7M217.5 331.2V348.0M218.5 324.5V339.5M219.5 314.3V332.6M220.5 311.9V324.2M221.5 306.7V318.2M222.5 306.7V325.1M223.5 316.6V334.9M224.5 324.0V337.8M225.5 326.6V344.1M226.5 324.8V344.1M227.5 320.2V339.5M228.5 328.5V352.5M229.5 339.2V359.8M230.5 351.1V366.4M231.5 355.7V369.5M232.5 338.9V365.8M233.5 324.6V350.2M234.5 327.8V347.8M235.5 334.9V352.8M236.5 343.3V357.8M237.5 339.3V352.3M238.5 328.7V349.1M239.5 325.4V339.8M240.5 319.0V332.2M241.5 311.4V328.7M242.5 308.4V318.6M243.5 304.3V316.4M244.5 309.0V329.1M245.5 318.7V334.0M246.5 323.0V337.8M247.5 327.1V339.3M248.5 319.1V333.4M249.5 319.1V345.0M250.5 329.2V352.8M251.5 343.6V361.1M252.5 353.7V372.2M253.5 350.5V377.1M254.5 328.4V361.9M255.5 328.4V346.1M256.5 328.7V352.9M257.5 342.7V360.4M258.5 342.9V358.4M259.5 334.3V349.3M260.5 329.7V342.8M261.5 323.4V337.5M262.5 314.5V333.8M263.5 313.3V328.1M264.5 309.0V322.1M265.5 309.0V325.1M266.5 315.2V334.1M267.5 324.6V335.0M268.5 330.7V342.7M269.5 325.6V342.7M270.5 320.1V337.6M271.5 326.2V345.1M272.5 339.8V356.2M273.5 349.2V364.6M274.5 355.0V371.5M275.5 354.6V376.3M276.5 331.3V361.8M277.5 330.4V351.1M278.5 336.3V353.3M279.5 344.9V363.4M280.5 347.4V363.2M281.5 335.8V355.6M282.5 331.9V345.7M283.5 327.9V338.3M284.5 320.8V334.8M285.5 318.3V329.7M286.5 314.2V325.0M287.5 314.2V331.4M288.5 322.7V340.4M289.5 327.1V341.5M290.5 330.4V344.4M291.5 324.5V341.4M292.5 324.5V342.9M293.5 334.8V356.1M294.5 345.7V362.1M295.5 353.9V368.9M296.5 357.6V373.4M297.5 334.7V363.7M298.5 325.5V351.1M299.5 329.0V346.5M300.5 339.3V353.9M301.5 344.1V359.7M302.5 335.6V350.6M303.5 328.5V345.1M304.5 323.0V339.1M305.5 314.7V330.5M306.5 312.1V326.6M307.5 308.3V321.2M308.5 306.4V329.7M309.5 316.8V341.8M310.5 318.0V341.1M311.5 324.0V352.9M312.5 322.3V349.3M313.5 327.2V349.0M314.5 327.2V349.0M315.5 327.3V345.2M316.5 327.3V350.9M317.5 327.3V350.9M318.5 329.8V349.1M319.5 329.8V349.1M320.5 335.4V349.6M321.5 330.8V351.1M322.5 329.2V351.2M323.5 329.2V349.2M324.5 333.9V350.8M325.5 335.8V348.0M325.5 348.6V351.2M326.5 327.3V351.2M327.5 327.3V348.7M328.5 330.4V348.7M329.5 330.4V345.5M330.5 330.2V345.7M331.5 330.2V345.8M332.5 331.4V349.5M333.5 327.7V349.5M334.5 328.3V347.8M335.5 329.0V345.1M336.5 329.0V346.8M337.5 331.7V347.3M338.5 332.8V349.6M339.5 334.5V351.3M340.5 334.5V349.4M341.5 332.7V347.6M342.5 333.9V348.5M343.5 334.4V350.6M344.5 331.2V350.6M345.5 328.0V348.9M346.5 327.6V351.1M347.5 335.0V348.5M348.5 330.2V347.7M349.5 330.2V348.9M350.5 332.0V348.1M351.5 332.4V351.3M352.5 329.3V349.9M353.5 330.9V350.3M354.5 330.9V351.5M355.5 334.4V348.2M356.5 331.4V352.0M357.5 334.2V352.0M358.5 332.7V351.0M359.5 332.7V349.2M360.5 335.0V346.9M361.5 335.1V353.5M362.5 335.7V351.9M363.5 333.0V351.5M364.5 333.9V349.1M365.5 334.3V348.4M366.5 334.6V350.4M367.5 332.2V350.8M368.5 332.2V355.6M369.5 335.0V353.9M370.5 330.2V353.9M371.5 334.8V351.9M372.5 334.8V349.4M373.5 335.8V350.5M374.5 330.1V351.2M375.5 330.1V342.0M375.5 343.4V353.4M376.5 331.4V352.6M377.5 334.8V355.9M378.5 334.8V359.3M379.5 334.0V359.3M380.5 334.0V353.1M381.5 334.5V359.8M382.5 334.5V361.4M383.5 334.3V351.5M384.5 334.3V355.9M385.5 337.3V357.3M386.5 333.3V357.1M387.5 335.5V354.6M388.5 334.2V354.4M389.5 330.4V354.5M390.5 330.4V355.1M391.5 331.3V355.1M392.5 335.3V353.6M393.5 335.3V351.7M394.5 335.6V355.2M395.5 336.7V351.0M396.5 329.8V351.0M397.5 329.8V347.3M398.5 332.8V347.3M399.5 332.8V352.2M400.5 333.6V352.2M401.5 332.5V347.7M402.5 330.0V352.2M403.5 326.9V348.9M404.5 326.5V351.6M405.5 329.6V351.7M406.5 327.1V346.3M407.5 326.2V348.0M408.5 326.2V348.0M409.5 327.9V350.7M410.5 327.9V347.2M411.5 330.1V346.9M412.5 330.1V350.0M413.5 332.7V349.9M414.5 330.9V349.9M415.5 329.8V348.3M416.5 329.5V348.3M417.5 328.2V347.7M418.5 328.2V351.3M419.5 325.9V347.9M420.5 325.9V347.3M421.5 332.9V348.1M422.5 327.5V349.2M423.5 328.6V349.2M424.5 330.6V348.2M425.5 331.2V346.0M426.5 332.5V347.1M427.5 330.4V346.6M428.5 325.6V349.2M429.5 325.6V345.8M430.5 326.7V345.6M431.5 328.7V347.2M432.5 328.7V347.2M433.5 326.7V349.2M434.5 329.1V347.6M435.5 325.4V347.6M436.5 330.8V348.6M437.5 329.5V344.2M438.5 330.9V343.8M439.5 331.0V350.0M440.5 342.9V363.4M441.5 336.4V363.4M442.5 322.7V344.8M443.5 321.6V336.7M444.5 326.9V344.3M445.5 337.1V349.4M446.5 326.5V344.8M447.5 320.7V338.4M448.5 313.1V330.3M449.5 306.6V324.3M450.5 303.0V315.6M451.5 301.4V311.5M452.5 301.4V315.8M453.5 307.1V325.2M454.5 315.0V330.0M455.5 318.7V330.0M456.5 316.3V331.3M457.5 311.2V325.0M458.5 313.5V336.6M459.5 322.5V345.5M460.5 333.2V357.3M461.5 346.7V368.6M462.5 351.4V374.3M463.5 330.3V362.8M464.5 324.4V343.7M465.5 325.1V351.0M466.5 340.1V358.5M467.5 335.6V356.4M468.5 327.0V347.0M469.5 323.4V337.8M470.5 317.1V329.9M471.5 309.0V325.1M472.5 305.4V321.0M473.5 303.2V318.3M474.5 307.1V326.7M475.5 315.5V335.2M476.5 321.6V336.8M477.5 324.3V340.8M478.5 317.9V336.7M479.5 317.9V335.9M480.5 329.3V351.8M481.5 336.6V361.8M482.5 350.9V366.7M483.5 359.5V377.0M484.5 342.1V369.4M485.5 332.8V355.1M486.5 332.9V350.8M487.5 342.4V358.5M488.5 348.5V362.8M489.5 342.3V359.7M490.5 333.9V352.1M491.5 329.9V343.9M492.5 322.9V342.2M493.5 318.2V332.4M494.5 315.3V327.0M495.5 313.3V326.0M496.5 313.8V334.1M497.5 325.0V342.2M498.5 328.9V342.5M499.5 330.5V343.3M500.5 326.6V343.1M501.5 324.8V343.3M502.5 332.3V351.8M503.5 345.3V362.3M504.5 349.9V371.3M505.5 363.3V381.0M506.5 350.5V379.2M507.5 330.2V359.8M508.5 333.1V352.2M509.5 343.8V362.6M510.5 349.1V370.1M511.5 343.4V359.3M512.5 334.5V350.9M513.5 325.8V342.9M514.5 316.4V334.9M515.5 312.7V330.9M516.5 311.9V321.2M517.5 311.9V328.6M518.5 322.7V337.6M519.5 328.4V346.2M520.5 334.2V348.4M521.5 328.2V346.5M522.5 320.0V341.7M523.5 331.7V362.1M524.5 349.8V366.3M525.5 355.2V375.1M526.5 365.5V382.3M527.5 345.6V375.1M528.5 331.6V356.5M529.5 334.2V354.9M530.5 346.9V362.1M531.5 353.2V367.3M532.5 347.3V362.4M533.5 339.3V353.3M534.5 331.5V349.2M535.5 325.9V339.5M536.5 318.7V332.8M537.5 314.9V328.3M538.5 311.6V327.8M539.5 319.1V339.9M540.5 328.0V344.4M541.5 333.4V345.6M542.5 335.4V348.3M543.5 326.7V343.2M544.5 326.4V350.3M545.5 337.1V358.5M546.5 345.9V362.1M547.5 353.5V368.9M548.5 361.3V372.5M549.5 341.5V368.6M550.5 329.2V353.6M551.5 327.4V349.8M552.5 338.8V356.9M553.5 347.0V363.8M554.5 338.8V358.2M555.5 332.2V349.5M556.5 326.4V343.4M557.5 318.4V334.4M558.5 314.5V326.6M559.5 313.6V326.3M560.5 311.3V322.5M561.5 316.2V328.7M562.5 323.9V339.1M563.5 330.3V345.3M564.5 329.6V345.3M565.5 324.0V338.8M566.5 327.5V344.4M567.5 338.9V355.9M568.5 348.9V366.2M569.5 358.8V378.7M570.5 349.3V378.7M571.5 328.7V357.6M572.5 325.9V343.2M573.5 336.5V355.4M574.5 347.1V363.9M575.5 342.0V360.8M576.5 329.9V352.2M577.5 323.2V339.9M578.5 315.5V333.8M579.5 311.4V326.7M580.5 305.2V316.0M581.5 300.7V313.9M582.5 304.1V323.4M583.5 310.8V335.5M584.5 320.8V337.7M585.5 327.1V341.3M586.5 317.8V340.8M587.5 318.4V338.2M588.5 330.8V351.4M589.5 340.4V359.8M590.5 353.7V369.3M591.5 353.2V372.4M592.5 334.3V360.9M593.5 326.1V342.6M594.5 330.6V347.2M595.5 339.0V355.3M596.5 340.9V357.6M597.5 332.2V351.5M598.5 324.6V344.3M599.5 317.1V336.7M600.5 311.4V325.4M601.5 310.9V325.3M602.5 304.7V317.3M603.5 304.7V325.0M604.5 311.1V328.4M605.5 321.4V335.0M606.5 323.4V340.5M607.5 320.6V340.3M608.5 315.1V333.1M609.5 324.8V346.5M610.5 338.9V352.3M611.5 341.3V356.1M612.5 340.2V358.3M613.5 337.6V359.2M614.5 333.9V356.3M615.5 327.1V346.4M616.5 326.6V348.7M617.5 329.0V344.4M618.5 332.5V348.2M619.5 332.7V342.6M620.5 325.9V345.2M621.5 329.2V350.1M622.5 332.1V346.7M623.5 329.8V346.6M624.5 327.7V347.8M625.5 327.3V343.8M626.5 328.5V344.5M627.5 325.9V347.6M628.5 328.7V348.5M629.5 327.5V345.8M630.5 328.5V346.6M631.5 333.8V350.1M632.5 332.2V344.4M633.5 329.0V343.7M634.5 332.9V345.8M635.5 331.7V344.4M636.5 330.1V341.9M637.5 327.4V343.1M638.5 327.7V343.9M639.5 327.7V347.9M640.5 326.0V347.9M641.5 330.6V347.7M642.5 330.1V344.6M643.5 327.1V348.1M644.5 330.5V346.9M645.5 329.2V348.7M646.5 332.2V350.2M647.5 333.3V353.4M648.5 331.4V351.0M649.5 332.2V351.5M650.5 337.1V353.4M651.5 332.6V355.7M652.5 330.7V355.1M653.5 330.5V352.2M654.5 335.1V354.8M655.5 332.9V354.0M656.5 329.0V353.2M657.5 333.5V353.8M658.5 328.8V352.8M659.5 330.9V354.5M660.5 334.4V354.5M661.5 336.0V351.5M662.5 334.0V353.1M663.5 337.2V354.2M664.5 333.7V359.6M665.5 334.5V357.4M666.5 335.3V358.8M667.5 334.4V353.2M668.5 338.1V358.7M669.5 330.9V355.1M670.5 332.2V356.6M671.5 334.9V356.4M672.5 331.5V353.7M673.5 339.3V353.1M674.5 337.4V355.4M675.5 337.9V354.6M676.5 337.2V356.5M677.5 337.3V354.0M678.5 335.7V356.5M679.5 333.2V357.4M680.5 333.8V355.1M681.5 332.5V352.9M682.5 334.0V354.3M683.5 337.0V357.2M684.5 334.9V356.9M685.5 340.1V359.7M686.5 335.4V354.8M687.5 337.2V358.1M688.5 337.2V355.5M689.5 338.2V359.4M690.5 336.4V356.0M691.5 333.3V352.4M692.5 327.9V351.6M693.5 330.7V350.9M694.5 333.5V351.6M695.5 333.4V352.2M696.5 330.0V347.9M697.5 319.1V325.5M697.5 332.6V346.3M698.5 238.8V249.1M699.5 155.7V173.8M700.5 137.5V158.5M701.5 137.0V147.5M702.5 139.2V155.5M703.5 132.4V152.7M704.5 132.4V147.2M705.5 138.6V148.7M706.5 140.9V150.7M707.5 140.1V150.9M708.5 137.8V151.9M709.5 138.7V150.0M710.5 139.8V151.8M711.5 139.3V153.4M712.5 137.2V156.1M713.5 144.4V155.7M714.5 139.9V158.0M715.5 139.9V159.8M716.5 142.3V160.5M717.5 141.5V159.2M718.5 143.4V157.3M719.5 140.3V157.4M720.5 144.0V156.5M721.5 145.7V158.0M722.5 143.8V156.3M723.5 139.2V154.4M724.5 141.4V154.7M725.5 139.3V156.4M726.5 141.2V158.6M727.5 139.4V159.7M728.5 142.1V159.2M729.5 142.2V162.7M730.5 140.8V160.2M731.5 140.7V158.8M732.5 144.6V160.0M733.5 143.1V163.0M734.5 143.1V162.6M735.5 141.3V163.1M736.5 140.2V158.1M737.5 143.0V161.7M738.5 143.0V159.6M739.5 144.4V159.2M740.5 140.8V156.6M741.5 144.9V160.7M742.5 142.6V161.7M743.5 140.5V159.5M744.5 141.3V158.9M745.5 143.8V161.6M746.5 143.3V162.6M747.5 143.0V163.7M748.5 141.6V159.4M749.5 140.7V160.1M750.5 142.9V159.3M751.5 142.2V159.3M752.5 142.2V162.9M753.5 145.2V163.8M754.5 141.8V159.3M755.5 145.1V161.2M756.5 143.8V157.1M757.5 146.7V161.2M758.5 144.5V163.9M759.5 143.9V158.5M760.5 141.9V159.0M761.5 141.0V159.6M762.5 141.3V156.1M763.5 142.4V158.9M764.5 142.0V157.5M765.5 141.0V162.2M766.5 144.4V164.1M767.5 142.2V159.1M768.5 145.2V160.1M769.5 143.6V160.0M770.5 141.2V159.8M771.5 146.9V158.8M772.5 142.3V158.5M773.5 141.2V158.7M774.5 145.9V158.3M775.5 149.2V160.0M776.5 143.1V160.3M777.5 141.3V162.8M778.5 146.0V161.8M779.5 144.5V161.9M780.5 146.1V160.7M781.5 146.3V161.4M782.5 146.2V162.7M783.5 142.9V158.2"/><path stroke="#5a5aff" d="M33.5 147.8V149.0M33.5 149.5V165.5M34.5 149.1V164.9M34.5 166.6V168.5M35.5 145.2V146.4M35.5 149.1V168.5M36.5 146.9V166.2M37.5 143.4V170.9M38.5 151.0V169.4M39.5 150.2V167.1M40.5 151.9V167.6M41.5 150.9V167.8M42.5 148.8V170.5M43.5 148.9V164.4M43.5 164.8V166.0M44.5 148.6V171.6M45.5 152.5V168.6M46.5 150.4V166.3M47.5 148.9V166.3M48.5 148.2V168.1M49.5 148.6V166.8M50.5 148.7V168.4M51.5 146.4V171.5M52.5 148.9V165.0M53.5 144.5V167.6M54.5 148.5V164.0M55.5 144.0V162.3M56.5 145.7V163.6M57.5 142.8V164.8M58.5 140.0V162.4M59.5 145.6V165.5M60.5 145.6V159.9M60.5 160.4V161.6M61.5 145.4V165.6M62.5 138.8V164.9M63.5 144.2V156.7M63.5 163.1V164.3M64.5 139.3V163.0M65.5 139.3V162.5M66.5 143.4V158.6M67.5 146.2V161.4M68.5 144.6V161.8M69.5 142.5V157.4M70.5 143.3V167.4M71.5 140.7V160.5M72.5 142.7V161.0M73.5 145.6V166.7M74.5 141.6V159.8M75.5 141.8V161.2M76.5 143.6V158.8M76.5 161.1V163.8M77.5 146.2V157.1M77.5 161.1V166.6M78.5 142.9V157.6M78.5 158.4V164.4M79.5 143.3V160.0M80.5 145.5V162.5M81.5 139.0V162.5M82.5 140.7V163.0M83.5 138.1V163.3M84.5 139.8V154.5M85.5 141.0V160.7M86.5 144.0V161.5M87.5 144.0V158.4M88.5 141.1V161.0M89.5 141.1V159.8M90.5 136.0V142.4M90.5 145.5V157.4M91.5 141.2V160.0M92.5 141.2V163.0M93.5 141.9V143.1M93.5 144.1V163.4M94.5 138.1V161.2M95.5 136.7V161.2M96.5 142.0V164.9M97.5 169.3V178.3M98.5 259.1V272.0M99.5 298.3V305.5M100.5 334.0V358.6M101.5 340.0V355.1M102.5 335.2V341.6M102.5 343.3V359.1M103.5 337.4V361.3M104.5 336.3V356.1M105.5 331.3V349.4M106.5 329.6V348.7M107.5 329.1V352.1M108.5 329.4V348.7M109.5 325.4V328.9M109.5 330.6V333.5M109.5 334.2V350.3M110.5 325.3V349.8M111.5 325.3V351.5M112.5 333.3V353.6M113.5 327.7V347.7M114.5 330.4V348.4M115.5 325.1V349.9M116.5 333.9V343.9M116.5 345.0V346.2M117.5 330.0V344.1M118.5 331.6V346.4M119.5 325.5V329.8M119.5 332.3V348.6M120.5 326.1V328.8M120.5 329.7V344.8M121.5 325.9V345.4M122.5 332.5V346.1M123.5 328.4V348.0M124.5 330.8V345.1M125.5 329.6V349.2M126.5 329.1V331.2M126.5 333.3V346.8M127.5 334.3V346.8M128.5 328.1V347.9M129.5 331.6V348.8M130.5 333.7V349.0M131.5 330.3V347.5M132.5 327.0V347.6M133.5 324.5V345.1M134.5 324.5V349.5M135.5 324.8V352.8M136.5 329.4V335.7M136.5 337.9V351.3M137.5 323.9V327.9M137.5 330.0V344.7M138.5 325.6V347.2M139.5 323.8V345.5M139.5 347.5V350.2M140.5 328.3V330.5M140.5 333.3V351.1M141.5 328.8V347.1M142.5 324.3V328.2M142.5 334.3V346.2M143.5 329.7V350.3M144.5 329.7V354.4M145.5 345.9V363.0M146.5 335.3V353.3M147.5 329.6V340.3M148.5 333.5V343.8M149.5 339.8V352.0M150.5 340.2V352.8M151.5 337.2V346.8M152.5 330.7V342.1M153.5 325.4V336.3M154.5 320.8V335.8M155.5 318.4V328.0M156.5 315.9V325.0M157.5 315.9V331.3M158.5 324.6V338.3M159.5 326.9V339.4M160.5 330.3V338.8M161.5 329.6V343.0M162.5 325.1V339.0M163.5 328.0V338.8M164.5 333.8V348.4M165.5 340.7V357.5M166.5 351.6V370.5M167.5 362.9V377.9M168.5 342.6V371.6M169.5 329.4V351.6M170.5 333.3V351.5M171.5 342.5V365.6M172.5 345.4V362.8M173.5 336.5V352.7M174.5 330.4V345.7M175.5 321.4V338.4M176.5 315.3V329.8M177.5 309.9V319.2M178.5 305.4V316.3M179.5 308.7V325.2M180.5 318.0V335.1M181.5 321.6V339.6M182.5 331.4V346.3M183.5 328.7V343.4M184.5 314.9V335.8M185.5 322.8V339.9M186.5 335.2V353.8M187.5 346.9V364.1M188.5 358.7V373.9M189.5 366.6V384.2M190.5 350.9V376.5M191.5 331.3V357.7M192.5 334.8V355.2M193.5 344.9V363.0M193.5 363.7V364.9M194.5 352.5V366.3M194.5 367.0V368.2M195.5 339.8V356.8M196.5 331.3V349.1M197.5 323.2V340.5M198.5 316.9V333.1M199.5 312.9V324.6M200.5 306.8V319.8M201.5 310.0V325.3M202.5 318.8V336.7M203.5 328.8V339.9M204.5 332.9V347.2M205.5 327.8V341.0M206.5 319.6V338.0M207.5 330.3V349.1M208.5 343.4V362.0M209.5 354.8V367.4M210.5 361.6V372.9M211.5 348.1V372.9M212.5 329.9V352.4M213.5 330.3V342.3M214.5 338.1V354.5M215.5 344.3V358.8M216.5 339.3V351.7M217.5 331.3V344.9M218.5 326.5V338.7M219.5 314.3V330.4M220.5 314.9V323.9M221.5 308.2V317.7M222.5 308.2V324.3M223.5 316.7V334.2M224.5 325.3V337.3M225.5 329.6V343.5M226.5 325.3V341.3M227.5 320.2V336.9M228.5 330.1V350.3M229.5 342.0V358.4M230.5 352.1V364.9M231.5 357.9V369.5M232.5 342.5V365.7M233.5 324.6V329.0M233.5 330.2V349.9M234.5 328.0V344.7M235.5 335.6V352.8M236.5 343.6V357.8M237.5 339.8V351.6M238.5 331.6V347.1M239.5 325.6V339.3M240.5 319.8V332.2M241.5 312.1V326.6M242.5 308.7V317.7M243.5 304.3V316.4M244.5 309.6V326.4M245.5 319.9V333.8M246.5 326.5V337.5M247.5 327.4V339.3M248.5 319.3V320.5M248.5 321.5V332.9M249.5 321.5V341.2M250.5 333.0V352.2M251.5 346.2V361.0M252.5 354.1V371.0M253.5 352.8V377.1M254.5 334.2V361.8M255.5 328.7V343.2M256.5 332.8V349.6M257.5 343.7V360.4M258.5 344.1V358.4M259.5 334.7V335.9M259.5 336.6V349.3M260.5 331.9V342.3M261.5 324.6V336.5M262.5 317.0V331.4M263.5 314.5V326.7M264.5 309.9V321.6M265.5 309.9V323.8M266.5 320.2V332.1M267.5 325.2V335.0M268.5 331.4V342.1M269.5 327.8V342.1M270.5 320.1V335.1M271.5 326.2V343.3M272.5 340.3V355.2M273.5 349.9V364.4M274.5 355.8V371.2M275.5 356.6V376.3M276.5 337.7V360.0M277.5 330.4V346.9M278.5 336.4V353.3M279.5 345.1V363.4M280.5 348.6V362.8M281.5 339.1V355.2M282.5 332.6V345.6M283.5 328.1V338.0M284.5 321.4V334.6M285.5 320.4V329.3M286.5 315.3V324.3M287.5 316.4V328.2M288.5 323.7V339.6M289.5 328.6V340.4M290.5 331.3V344.4M291.5 327.6V341.3M292.5 325.0V341.4M293.5 335.7V356.1M294.5 346.4V359.9M295.5 354.2V368.2M296.5 358.5V373.4M297.5 340.3V363.6M298.5 325.5V349.7M299.5 330.0V344.6M300.5 339.6V352.7M301.5 344.4V359.7M302.5 336.1V349.8M303.5 330.6V345.1M304.5 323.3V338.5M305.5 316.1V330.5M306.5 313.4V326.6M307.5 308.3V319.1M308.5 306.4V323.5M309.5 318.2V341.8M310.5 318.0V338.5M311.5 329.0V352.9M312.5 322.3V330.4M312.5 331.8V346.4M313.5 329.2V346.4M314.5 327.3V344.3M315.5 327.3V342.3M315.5 343.3V344.5M316.5 327.3V345.5M317.5 327.3V346.7M317.5 347.7V348.9M318.5 331.8V347.9M319.5 331.8V347.9M320.5 335.5V349.6M321.5 334.7V351.1M322.5 330.8V351.2M323.5 330.9V332.1M323.5 333.4V349.2M324.5 333.9V348.1M325.5 336.0V347.9M325.5 348.6V350.8M326.5 332.1V345.2M326.5 346.1V347.3M327.5 333.7V345.2M328.5 333.7V345.1M329.5 332.7V342.7M329.5 343.9V345.5M330.5 331.8V345.1M331.5 331.4V345.8M332.5 333.0V346.7M333.5 327.7V347.8M334.5 328.3V347.2M335.5 330.5V344.9M336.5 330.2V345.6M337.5 331.7V347.3M338.5 332.8V346.9M338.5 347.4V348.6M339.5 334.5V351.3M340.5 334.5V349.4M341.5 332.7V346.7M342.5 333.9V348.5M343.5 334.5V348.5M344.5 334.4V349.3M345.5 328.0V348.9M346.5 327.6V351.1M347.5 336.6V347.0M348.5 332.7V347.7M349.5 331.9V348.9M350.5 332.4V347.2M351.5 332.8V351.3M352.5 329.3V348.2M353.5 333.1V347.5M354.5 333.4V351.5M355.5 334.4V348.2M356.5 331.4V345.5M357.5 334.2V350.4M358.5 334.7V351.0M359.5 337.2V349.2M360.5 335.0V338.6M360.5 339.1V346.7M361.5 335.1V353.5M362.5 336.2V351.5M363.5 333.0V349.9M364.5 335.1V349.1M365.5 334.3V348.4M366.5 336.6V348.4M367.5 332.2V350.8M368.5 332.2V355.6M369.5 335.0V350.9M369.5 352.5V353.7M370.5 330.2V337.3M370.5 338.3V338.9M370.5 340.3V351.9M371.5 335.1V351.2M372.5 338.3V349.1M373.5 336.6V349.7M374.5 334.6V351.2M375.5 333.8V341.6M375.5 344.0V353.4M376.5 331.4V352.0M377.5 337.7V353.5M378.5 335.3V355.9M379.5 334.8V354.3M380.5 334.8V352.4M381.5 336.8V359.8M382.5 335.3V361.4M383.5 336.2V351.4M384.5 336.2V354.6M385.5 337.3V357.3M386.5 333.3V357.1M387.5 336.0V353.9M388.5 335.5V354.4M389.5 333.1V354.5M390.5 333.7V352.7M391.5 331.3V336.5M391.5 337.8V353.6M392.5 337.8V348.5M393.5 335.6V348.3M393.5 349.2V351.7M394.5 335.6V355.2M395.5 337.4V346.1M396.5 337.1V350.1M397.5 332.2V333.4M397.5 337.4V347.0M398.5 337.6V346.4M399.5 336.1V351.4M400.5 336.1V351.6M401.5 332.5V347.7M402.5 331.5V352.2M403.5 326.9V343.9M403.5 345.8V348.9M404.5 326.5V351.6M405.5 329.8V351.7M406.5 328.0V344.5M407.5 326.3V346.3M408.5 332.1V344.9M409.5 329.6V350.7M410.5 333.8V347.2M411.5 333.0V346.8M412.5 332.4V346.9M412.5 348.5V350.0M413.5 334.4V349.7M414.5 332.1V348.5M415.5 330.9V348.3M416.5 329.5V347.6M417.5 334.2V347.7M418.5 328.4V351.3M419.5 328.4V347.3M420.5 328.2V329.4M420.5 331.7V346.4M421.5 332.9V346.2M422.5 327.5V348.1M423.5 330.8V348.2M424.5 330.6V345.1M425.5 332.0V345.0M426.5 332.5V347.1M427.5 330.4V346.6M428.5 329.4V349.2M429.5 326.7V345.8M430.5 330.8V345.6M431.5 328.9V345.1M432.5 330.5V345.2M433.5 326.7V349.2M434.5 329.1V344.5M435.5 325.4V343.3M436.5 330.8V348.6M437.5 329.5V344.2M438.5 330.9V342.0M439.5 331.0V349.7M440.5 344.1V362.4M441.5 336.9V362.4M442.5 324.4V344.6M443.5 321.6V336.2M444.5 330.7V343.6M445.5 337.1V349.4M446.5 327.9V344.3M447.5 320.8V336.4M448.5 313.8V327.7M449.5 306.6V319.3M450.5 303.0V313.8M451.5 302.6V311.5M452.5 302.6V315.1M453.5 308.9V325.2M454.5 315.0V326.2M455.5 319.4V329.9M456.5 319.1V331.3M457.5 311.2V323.9M458.5 313.5V333.8M459.5 327.3V345.4M460.5 336.5V355.9M461.5 348.3V368.1M462.5 354.0V374.3M463.5 331.6V359.3M464.5 324.4V342.2M465.5 328.5V348.6M466.5 340.5V354.3M466.5 355.2V358.5M467.5 339.5V354.4M468.5 327.0V345.2M469.5 323.4V336.9M470.5 317.4V329.4M471.5 311.1V325.1M472.5 307.2V321.0M473.5 303.2V316.2M474.5 308.9V326.4M475.5 317.5V334.0M476.5 321.6V335.2M477.5 324.3V327.1M477.5 328.1V340.8M478.5 319.0V333.1M479.5 320.0V335.9M480.5 329.3V350.3M481.5 336.6V339.6M481.5 341.8V359.5M482.5 351.7V365.3M483.5 359.6V377.0M484.5 343.8V369.2M485.5 332.8V351.9M486.5 333.9V348.4M487.5 343.5V356.6M488.5 349.8V362.8M489.5 343.4V358.6M490.5 333.9V350.5M491.5 330.0V342.2M492.5 326.0V337.7M493.5 318.6V331.3M494.5 317.0V326.4M495.5 313.3V323.8M496.5 318.3V331.1M497.5 325.8V337.1M498.5 330.3V342.2M499.5 331.0V343.3M500.5 326.8V343.0M501.5 324.8V342.4M502.5 333.7V349.9M503.5 345.9V361.6M504.5 353.4V370.8M505.5 364.4V381.0M506.5 352.8V378.5M507.5 330.2V357.2M508.5 333.1V351.8M509.5 347.0V361.7M510.5 349.8V370.1M511.5 343.5V357.8M512.5 334.5V350.6M513.5 328.7V342.6M514.5 316.9V334.2M515.5 316.4V329.1M516.5 311.9V320.7M517.5 313.2V326.3M518.5 322.9V337.6M519.5 329.1V341.1M520.5 335.7V348.4M521.5 329.1V345.1M522.5 320.0V341.6M523.5 333.3V360.9M524.5 350.1V366.3M525.5 357.7V375.1M526.5 367.7V382.3M527.5 348.1V372.8M528.5 331.6V355.0M529.5 337.2V354.3M530.5 348.2V359.8M531.5 353.4V367.3M532.5 347.3V359.4M533.5 339.4V352.5M534.5 333.6V344.7M535.5 326.8V338.6M536.5 319.1V332.8M537.5 316.2V323.9M537.5 326.3V327.5M538.5 311.6V326.0M539.5 320.6V338.2M540.5 328.5V343.8M541.5 333.4V345.0M542.5 336.6V348.3M543.5 326.7V343.0M544.5 326.4V345.3M545.5 338.6V358.5M546.5 349.3V362.1M547.5 356.7V366.6M548.5 361.6V372.5M549.5 343.1V366.5M550.5 329.2V351.4M551.5 327.4V348.3M552.5 340.1V356.7M553.5 347.9V363.8M554.5 338.8V357.4M555.5 332.9V348.4M556.5 328.8V342.6M557.5 318.5V333.5M558.5 317.1V326.6M559.5 313.6V322.3M560.5 311.3V322.1M561.5 316.9V327.8M562.5 325.6V337.6M563.5 331.0V343.6M564.5 330.9V344.1M565.5 324.0V335.9M566.5 327.5V342.2M567.5 338.9V355.3M568.5 349.2V366.0M569.5 360.6V378.4M570.5 350.3V378.4M571.5 328.7V356.9M572.5 325.9V343.1M573.5 337.5V352.5M574.5 348.0V363.9M575.5 342.0V358.8M576.5 332.8V349.0M577.5 324.5V339.6M578.5 316.5V333.8M579.5 312.6V323.9M580.5 307.3V316.0M581.5 300.7V313.3M582.5 304.9V322.3M583.5 315.5V333.4M584.5 325.9V337.1M585.5 327.1V338.6M585.5 339.6V341.3M586.5 317.8V337.7M587.5 319.1V338.1M588.5 330.9V350.7M589.5 345.7V359.1M590.5 354.0V366.3M591.5 354.6V372.4M592.5 335.7V357.6M593.5 326.1V342.6M594.5 331.4V346.0M595.5 341.2V355.3M596.5 341.4V357.6M597.5 335.1V350.7M598.5 327.5V344.3M599.5 319.6V332.6M600.5 311.4V325.3M601.5 311.1V323.5M602.5 305.7V317.3M603.5 305.7V320.5M604.5 313.6V327.4M605.5 322.3V335.0M606.5 326.1V340.5M607.5 321.2V340.1M608.5 315.1V330.2M609.5 325.6V345.6M610.5 339.9V352.3M611.5 343.7V354.0M612.5 342.2V358.3M613.5 337.6V355.0M613.5 355.9V359.2M614.5 333.9V351.3M614.5 352.3V356.3M615.5 329.7V344.9M616.5 326.6V328.3M616.5 330.4V333.6M616.5 334.6V348.7M617.5 329.0V344.0M618.5 333.6V348.2M619.5 332.7V342.2M620.5 325.9V345.2M621.5 330.9V350.1M622.5 332.1V346.7M623.5 329.8V346.6M624.5 328.3V329.5M624.5 332.4V347.8M625.5 327.3V343.8M626.5 332.5V342.5M627.5 325.9V329.7M627.5 331.4V332.6M627.5 333.9V347.6M628.5 330.5V348.5M629.5 327.5V329.9M629.5 331.5V345.8M630.5 328.5V346.6M631.5 333.9V343.7M631.5 344.9V350.1M632.5 332.2V343.6M633.5 329.0V343.7M634.5 333.1V345.8M635.5 331.7V344.4M636.5 330.1V341.8M637.5 327.4V328.9M637.5 331.4V343.1M638.5 328.0V329.5M638.5 330.4V343.9M639.5 327.7V346.3M640.5 326.0V345.9M641.5 333.4V347.7M642.5 330.1V344.6M643.5 327.1V331.7M643.5 332.8V348.1M644.5 332.8V346.9M645.5 329.2V348.7M646.5 332.2V350.2M647.5 334.9V353.4M648.5 331.4V351.0M649.5 332.2V351.5M650.5 337.1V353.4M651.5 332.6V355.7M652.5 331.1V332.3M652.5 335.9V355.1M653.5 330.5V331.9M653.5 332.9V352.2M654.5 337.3V354.8M655.5 332.9V354.0M656.5 329.0V353.2M657.5 333.5V353.8M658.5 328.8V332.1M658.5 333.9V350.2M659.5 332.4V333.6M659.5 335.7V354.5M660.5 334.4V338.0M660.5 338.7V354.5M661.5 337.8V351.5M662.5 334.0V353.1M663.5 337.2V354.2M664.5 333.7V335.7M664.5 338.4V359.6M665.5 335.0V336.2M665.5 336.8V351.0M665.5 353.3V355.5M666.5 335.3V350.6M666.5 356.2V358.8M667.5 334.4V350.1M667.5 350.6V353.2M668.5 338.4V351.8M668.5 352.9V358.7M669.5 330.9V355.1M670.5 332.2V336.8M670.5 339.1V356.6M671.5 336.6V356.4M672.5 331.5V353.7M673.5 339.4V351.7M674.5 337.4V355.4M675.5 337.9V354.6M676.5 337.2V356.5M677.5 337.3V354.0M678.5 337.1V356.5M679.5 333.2V357.4M680.5 333.8V355.1M681.5 332.5V335.2M681.5 339.2V352.9M682.5 334.6V353.2M683.5 337.6V357.2M684.5 334.9V352.7M685.5 340.7V359.7M686.5 335.4V353.1M687.5 339.7V358.1M688.5 338.3V354.5M689.5 338.2V359.4M690.5 336.9V356.0M691.5 336.0V352.4M692.5 327.9V351.6M693.5 332.4V350.9M694.5 333.5V351.6M695.5 335.7V352.2M696.5 330.0V347.9M697.5 319.1V324.7M697.5 335.4V345.9M698.5 239.0V248.9M699.5 156.1V173.7M700.5 138.4V158.0M701.5 137.0V147.1M702.5 139.2V140.8M702.5 142.1V155.5M703.5 135.1V148.4M703.5 151.2V152.7M704.5 133.5V147.2M705.5 138.9V148.3M706.5 142.3V150.7M707.5 140.1V149.2M708.5 137.8V148.0M708.5 149.6V151.9M709.5 139.3V148.7M710.5 140.7V151.2M711.5 139.3V141.0M711.5 141.6V153.4M712.5 137.2V156.1M713.5 144.4V155.7M714.5 142.2V157.1M715.5 142.2V158.0M716.5 142.3V160.5M717.5 141.5V159.2M718.5 143.4V157.3M719.5 140.3V157.4M720.5 144.0V156.5M721.5 146.6V158.0M722.5 144.3V156.3M723.5 139.2V154.4M724.5 141.5V154.7M725.5 139.3V154.5M726.5 144.7V158.2M727.5 139.4V142.4M727.5 145.0V159.7M728.5 142.1V158.3M729.5 145.8V162.7M730.5 140.8V143.4M730.5 147.1V159.5M731.5 140.7V158.8M732.5 144.6V160.0M733.5 143.2V163.0M734.5 143.1V160.5M735.5 141.3V158.4M735.5 161.4V163.1M736.5 140.2V158.1M737.5 143.0V155.7M737.5 158.4V161.7M738.5 143.0V159.1M739.5 144.4V155.8M739.5 156.6V159.2M740.5 140.8V156.6M741.5 145.1V160.7M742.5 144.4V156.4M742.5 157.2V161.7M743.5 140.5V159.5M744.5 141.3V158.9M745.5 143.8V161.6M746.5 143.3V162.6M747.5 143.0V163.7M748.5 142.9V159.4M749.5 140.7V160.1M750.5 142.9V159.2M751.5 142.3V143.5M751.5 144.2V159.3M752.5 142.2V143.4M752.5 144.2V159.4M753.5 145.3V159.1M753.5 161.7V163.8M754.5 141.8V159.3M755.5 145.1V146.9M755.5 147.7V161.2M756.5 143.8V156.9M757.5 146.9V148.1M757.5 148.5V159.1M758.5 144.5V163.9M759.5 143.9V158.5M760.5 145.0V157.5M761.5 141.0V143.1M761.5 143.8V156.1M761.5 157.8V159.6M762.5 141.3V155.8M763.5 142.8V158.9M764.5 142.1V157.5M765.5 141.0V143.2M765.5 145.3V156.5M766.5 144.4V159.4M766.5 161.0V164.1M767.5 142.2V158.8M768.5 145.8V160.1M769.5 143.6V160.0M770.5 141.2V159.8M771.5 146.9V158.8M772.5 146.4V158.0M773.5 141.2V143.5M773.5 144.2V158.7M774.5 145.9V158.3M775.5 150.0V160.0M776.5 149.0V160.1M777.5 141.3V144.7M777.5 147.7V156.0M777.5 156.7V162.8M778.5 147.9V159.6M778.5 160.1V161.3M779.5 144.5V149.2M779.5 149.7V159.6M779.5 160.6V161.9M780.5 146.1V159.8M781.5 146.3V161.4M782.5 146.2V162.7M783.5 145.4V158.2"/><path stroke="#0000ff" d="M33.5 149.5V165.5M34.5 149.1V164.2M35.5 149.1V167.8M36.5 146.9V165.9M37.5 144.8V156.6M37.5 157.3V168.4M38.5 152.5V167.1M39.5 150.7V165.2M40.5 152.5V167.6M41.5 151.3V167.8M42.5 149.9V167.8M43.5 153.7V163.6M44.5 148.9V166.4M44.5 167.4V168.2M45.5 154.4V155.6M45.5 157.2V168.2M46.5 151.4V165.6M47.5 149.1V150.3M47.5 151.4V165.1M48.5 149.7V150.1M48.5 151.8V166.0M49.5 148.6V166.0M50.5 150.8V166.8M51.5 148.3V160.2M51.5 160.8V169.2M52.5 148.9V163.9M53.5 146.8V167.6M54.5 148.8V162.8M55.5 147.1V159.7M55.5 161.1V162.3M56.5 149.3V162.2M57.5 142.8V157.9M57.5 158.7V163.6M58.5 140.0V162.4M59.5 147.7V161.9M60.5 146.2V159.9M61.5 146.2V163.9M62.5 139.7V164.9M63.5 145.8V156.5M64.5 142.5V143.7M64.5 147.1V161.3M65.5 142.5V161.4M66.5 144.8V157.3M67.5 146.3V160.0M68.5 145.2V160.3M69.5 142.7V157.1M70.5 143.7V158.4M71.5 140.7V158.4M72.5 143.9V160.0M73.5 146.7V163.0M74.5 141.6V158.9M75.5 141.8V160.0M76.5 144.3V156.2M77.5 147.0V156.2M78.5 143.0V157.6M79.5 143.3V160.0M80.5 146.2V155.7M80.5 157.7V160.7M81.5 139.0V160.7M82.5 142.9V160.3M83.5 140.7V163.3M84.5 139.8V152.9M85.5 144.5V155.9M86.5 146.0V161.5M87.5 144.2V157.0M88.5 142.2V160.9M89.5 141.8V159.3M90.5 145.6V156.1M91.5 142.8V156.0M92.5 143.5V161.4M93.5 144.1V159.6M94.5 145.5V159.6M95.5 138.1V159.9M96.5 144.3V159.9M97.5 169.3V177.9M98.5 259.2V271.9M99.5 298.7V305.4M100.5 334.2V356.3M101.5 340.4V353.9M102.5 344.4V358.7M103.5 340.4V357.6M104.5 336.3V352.2M105.5 331.3V347.9M106.5 330.2V331.4M106.5 335.1V347.9M107.5 330.2V332.3M107.5 332.9V344.0M108.5 330.6V332.0M108.5 332.7V333.9M108.5 334.5V347.8M109.5 335.8V349.7M110.5 327.7V348.4M111.5 330.1V349.8M112.5 333.9V347.6M113.5 328.8V344.9M114.5 330.9V344.8M115.5 328.3V348.9M116.5 334.0V341.7M117.5 332.6V344.0M118.5 331.6V344.1M119.5 327.6V329.8M119.5 332.5V345.5M120.5 331.4V344.3M121.5 328.6V342.8M122.5 334.2V345.2M123.5 331.1V346.5M124.5 330.8V345.0M125.5 330.0V348.1M126.5 333.3V345.0M126.5 345.6V346.0M127.5 335.1V345.0M128.5 328.7V346.3M129.5 333.4V348.6M130.5 334.2V347.8M131.5 331.2V345.7M132.5 327.6V345.3M133.5 326.0V341.5M134.5 327.4V343.0M134.5 345.6V348.2M135.5 328.9V339.1M135.5 341.5V342.7M135.5 347.5V351.7M136.5 330.1V335.0M136.5 338.6V348.9M137.5 330.0V344.6M138.5 326.7V342.3M138.5 343.3V344.5M139.5 330.9V345.5M140.5 333.4V338.3M140.5 339.3V348.7M141.5 329.3V346.1M142.5 334.5V345.9M143.5 330.4V348.5M144.5 332.9V352.8M145.5 347.3V359.6M146.5 335.3V352.1M147.5 329.7V339.4M148.5 333.7V343.8M149.5 340.5V350.9M150.5 341.3V352.6M151.5 337.3V346.3M152.5 330.7V341.5M153.5 326.7V335.3M154.5 322.3V331.1M154.5 332.8V334.0M155.5 319.0V327.9M156.5 316.2V324.4M157.5 316.2V329.0M158.5 324.7V334.2M159.5 327.8V339.1M160.5 330.6V338.8M161.5 330.2V342.7M162.5 325.8V337.7M163.5 328.4V338.8M164.5 335.9V348.4M165.5 340.9V357.4M166.5 353.4V368.5M167.5 364.9V377.9M168.5 345.1V371.5M169.5 329.9V350.3M170.5 334.6V349.5M171.5 343.0V363.6M172.5 346.6V361.8M173.5 338.3V352.7M174.5 332.4V345.6M175.5 322.0V335.2M176.5 315.7V327.8M177.5 309.9V319.2M178.5 305.9V316.1M179.5 308.8V324.6M180.5 321.0V335.1M181.5 322.5V338.0M182.5 332.5V344.3M183.5 328.8V343.4M184.5 317.0V335.5M185.5 323.0V337.9M186.5 335.6V352.1M187.5 347.3V362.4M188.5 359.4V371.7M189.5 368.2V381.2M190.5 351.3V375.9M191.5 334.2V356.1M192.5 334.8V355.1M193.5 345.3V361.4M194.5 352.8V366.3M195.5 340.9V356.4M196.5 332.4V346.0M197.5 324.1V340.2M198.5 318.5V331.1M198.5 331.9V332.5M199.5 314.9V323.8M200.5 307.4V319.1M201.5 310.5V325.0M202.5 319.8V335.6M203.5 329.6V339.7M204.5 334.0V344.9M205.5 329.2V339.4M206.5 323.1V336.8M207.5 330.9V347.6M208.5 345.6V361.4M209.5 355.2V367.0M210.5 363.1V370.9M211.5 348.4V370.9M212.5 330.3V352.3M213.5 332.3V342.2M214.5 338.8V351.6M215.5 346.2V358.7M216.5 340.3V350.9M217.5 331.9V343.2M218.5 326.5V338.4M219.5 316.5V329.6M220.5 315.3V323.9M221.5 308.3V317.5M222.5 308.3V323.0M223.5 318.7V334.2M224.5 326.2V336.4M225.5 331.9V343.5M226.5 327.8V339.9M227.5 322.4V335.5M228.5 332.2V349.6M229.5 345.0V358.0M230.5 354.6V363.3M231.5 358.0V369.2M232.5 345.2V365.7M233.5 325.2V326.4M233.5 330.2V348.5M234.5 328.0V344.0M235.5 337.7V351.0M236.5 343.7V356.5M237.5 339.8V351.0M238.5 332.8V344.5M239.5 325.9V337.4M240.5 320.2V331.0M241.5 312.1V325.7M242.5 309.0V316.8M243.5 304.3V314.9M244.5 309.7V323.9M245.5 319.9V332.6M246.5 326.7V337.2M247.5 327.4V338.1M248.5 321.8V332.7M249.5 321.8V340.4M250.5 333.9V351.1M251.5 346.6V361.0M252.5 358.4V367.8M253.5 353.4V372.4M254.5 334.8V360.6M255.5 329.1V342.3M256.5 335.2V346.3M257.5 344.0V358.9M258.5 344.3V358.3M259.5 336.6V348.1M260.5 332.3V342.3M261.5 325.5V336.4M262.5 317.1V330.4M263.5 315.6V326.3M264.5 311.0V321.6M265.5 311.0V323.4M266.5 321.2V332.1M267.5 325.2V334.7M268.5 331.5V340.4M269.5 327.9V341.6M270.5 320.6V335.1M271.5 328.7V342.9M272.5 340.4V355.2M273.5 350.1V362.0M274.5 357.5V370.2M275.5 357.5V374.1M276.5 339.8V359.9M277.5 331.1V346.7M278.5 339.5V352.5M279.5 346.8V362.9M280.5 349.4V362.8M281.5 339.2V354.4M282.5 332.8V345.6M283.5 328.5V337.3M284.5 322.5V334.6M285.5 320.4V328.8M286.5 316.5V323.8M287.5 316.4V327.7M288.5 324.2V339.6M289.5 329.9V340.2M290.5 332.0V332.5M290.5 334.4V344.3M291.5 328.0V340.9M292.5 325.0V340.8M293.5 336.1V355.9M294.5 347.1V359.7M295.5 355.4V367.7M296.5 359.0V373.3M297.5 341.7V363.1M298.5 326.3V327.5M298.5 329.5V347.5M299.5 330.5V344.4M300.5 340.0V352.5M301.5 345.6V356.1M302.5 338.9V348.7M303.5 330.8V344.5M304.5 323.3V337.3M305.5 316.1V330.0M306.5 314.4V324.5M307.5 309.5V318.8M308.5 308.3V323.1M309.5 319.5V337.5M310.5 318.6V338.3M311.5 332.3V349.6M312.5 332.0V346.1M313.5 330.0V334.8M313.5 335.3V344.3M314.5 327.4V343.0M315.5 327.4V342.3M316.5 327.3V345.2M317.5 334.5V346.7M318.5 332.8V345.0M319.5 335.4V346.0M320.5 336.2V346.5M321.5 335.5V347.4M322.5 333.3V334.8M322.5 335.8V346.3M323.5 333.6V348.1M324.5 335.8V348.0M325.5 336.0V343.2M325.5 346.2V347.4M326.5 332.1V344.5M327.5 333.7V345.1M328.5 333.9V344.9M329.5 333.6V342.7M330.5 331.8V344.6M331.5 332.0V345.8M332.5 333.3V346.7M333.5 333.9V347.2M334.5 330.5V344.9M335.5 332.3V343.3M336.5 330.2V345.6M337.5 332.0V335.4M337.5 336.2V346.8M338.5 333.9V346.9M339.5 334.6V349.0M340.5 334.5V348.1M341.5 334.5V345.8M342.5 334.7V348.5M343.5 334.7V348.4M344.5 335.0V349.3M345.5 331.2V348.8M346.5 334.6V348.5M347.5 336.8V347.0M348.5 332.7V346.8M349.5 331.9V348.1M350.5 332.9V347.2M351.5 332.9V349.9M352.5 332.8V346.5M352.5 347.0V347.5M353.5 333.1V347.0M354.5 333.4V350.3M355.5 334.7V347.4M356.5 334.4V345.3M357.5 334.7V350.4M358.5 335.2V348.1M359.5 337.3V346.7M360.5 336.7V338.5M360.5 339.1V346.7M361.5 335.9V351.9M362.5 336.5V346.6M363.5 333.9V349.9M364.5 335.1V348.4M365.5 336.2V346.9M366.5 337.1V347.0M367.5 333.1V345.0M367.5 345.7V350.4M368.5 334.3V350.9M369.5 335.5V350.6M370.5 340.4V350.6M371.5 335.1V351.2M372.5 338.7V349.1M373.5 337.2V349.7M374.5 335.8V350.5M375.5 333.8V335.8M375.5 339.9V341.6M375.5 344.8V352.8M376.5 334.0V335.1M376.5 339.9V349.9M377.5 337.7V352.6M378.5 339.2V354.6M379.5 335.3V353.0M380.5 338.3V352.3M381.5 336.8V355.3M382.5 335.3V355.3M383.5 338.1V350.7M384.5 337.3V354.6M385.5 337.3V355.9M386.5 339.1V342.1M386.5 342.9V354.6M387.5 336.0V353.0M388.5 337.1V351.3M389.5 333.1V352.7M390.5 335.3V352.6M391.5 338.2V350.9M392.5 338.0V348.5M393.5 336.6V348.3M394.5 335.6V351.8M395.5 337.8V346.1M396.5 337.4V350.1M397.5 337.5V347.0M398.5 337.7V346.1M399.5 336.8V338.4M399.5 339.0V350.1M400.5 337.9V349.0M400.5 350.4V351.4M401.5 332.6V347.5M402.5 331.5V333.9M402.5 335.6V350.3M403.5 330.0V331.4M403.5 332.7V343.9M404.5 330.2V347.0M405.5 329.8V345.0M406.5 329.9V343.8M407.5 326.6V344.6M408.5 332.3V344.9M409.5 329.6V349.1M410.5 333.8V346.3M411.5 333.7V346.8M412.5 332.4V346.3M413.5 334.5V348.5M414.5 332.7V333.3M414.5 334.8V348.3M415.5 333.3V347.1M416.5 329.8V345.4M417.5 334.3V347.6M418.5 330.4V347.9M419.5 330.3V341.1M419.5 342.6V346.4M420.5 331.7V345.8M421.5 332.9V346.2M422.5 328.6V347.1M423.5 330.8V348.0M424.5 330.8V345.0M425.5 332.0V345.0M426.5 334.6V346.1M427.5 332.2V345.5M428.5 330.2V345.5M429.5 329.4V344.6M430.5 332.9V345.1M431.5 328.9V343.2M432.5 331.2V334.1M432.5 334.6V345.1M433.5 329.4V348.0M434.5 330.1V344.5M435.5 328.1V343.3M436.5 331.6V342.8M437.5 332.1V340.3M438.5 332.6V341.8M439.5 331.5V348.5M440.5 344.1V361.5M441.5 339.3V361.5M442.5 324.5V343.4M443.5 322.7V334.9M444.5 332.8V342.4M445.5 337.3V348.3M446.5 330.6V343.1M447.5 322.5V334.1M448.5 314.0V326.9M449.5 307.3V318.9M450.5 305.1V313.2M451.5 302.9V311.3M452.5 303.0V313.6M453.5 310.2V322.5M454.5 317.8V326.2M455.5 319.4V329.9M456.5 320.2V331.1M457.5 312.7V323.9M458.5 314.1V332.0M459.5 329.2V345.4M460.5 336.5V354.9M461.5 348.4V366.1M462.5 355.3V372.8M463.5 332.9V359.1M464.5 325.1V341.2M465.5 330.3V344.8M466.5 342.8V353.9M466.5 356.0V357.2M467.5 342.1V354.4M468.5 329.1V344.8M469.5 326.3V336.9M470.5 318.6V329.4M471.5 311.9V323.9M472.5 308.6V320.8M473.5 304.0V315.5M474.5 309.5V326.0M475.5 317.5V332.8M476.5 322.2V335.1M477.5 328.1V337.7M478.5 319.0V333.0M479.5 320.7V334.9M480.5 332.0V349.1M481.5 341.8V357.4M482.5 352.6V365.0M483.5 359.7V374.5M484.5 345.6V368.5M485.5 333.9V351.8M486.5 334.2V348.3M487.5 343.9V355.9M488.5 351.0V361.8M489.5 345.3V357.6M490.5 334.1V348.7M491.5 331.5V342.2M492.5 326.3V335.9M493.5 320.0V331.0M494.5 317.4V326.4M495.5 313.8V323.5M496.5 319.2V329.4M497.5 326.3V336.4M498.5 330.3V341.3M499.5 331.5V343.1M500.5 327.0V340.8M501.5 325.2V339.2M502.5 334.4V349.7M503.5 346.5V359.7M504.5 355.1V369.7M505.5 364.7V380.7M506.5 353.3V377.0M507.5 334.6V355.6M508.5 333.3V350.3M509.5 347.4V361.2M510.5 350.3V364.7M511.5 344.4V356.2M512.5 335.1V349.1M513.5 329.3V342.1M514.5 316.9V334.1M515.5 317.0V327.8M516.5 311.9V320.7M517.5 313.2V326.2M518.5 323.4V337.5M519.5 330.3V340.5M520.5 335.8V347.5M521.5 329.7V344.0M522.5 321.3V341.2M523.5 336.2V357.9M524.5 350.3V363.9M525.5 358.5V374.5M526.5 368.1V381.2M527.5 349.8V371.8M528.5 333.4V354.8M529.5 338.6V352.7M530.5 349.2V359.4M531.5 354.9V365.4M532.5 347.5V358.1M533.5 339.4V350.9M534.5 334.0V342.7M535.5 326.8V336.4M536.5 319.4V332.4M537.5 316.6V323.5M538.5 313.6V325.8M539.5 323.5V335.4M540.5 330.1V340.5M540.5 341.9V343.1M541.5 334.5V344.8M542.5 336.6V347.0M543.5 327.7V342.9M544.5 328.5V343.6M545.5 340.6V357.6M546.5 349.5V361.1M547.5 357.2V366.5M548.5 361.7V371.7M549.5 344.2V365.8M550.5 329.2V350.4M551.5 329.2V346.4M552.5 342.4V353.7M552.5 354.4V355.6M553.5 348.0V360.7M554.5 341.3V356.6M555.5 334.0V346.5M556.5 329.0V340.6M557.5 322.6V333.1M558.5 318.3V326.5M559.5 313.6V322.2M560.5 312.3V321.9M561.5 317.0V327.7M562.5 325.7V337.2M563.5 332.2V333.4M563.5 333.9V342.8M564.5 331.9V344.1M565.5 324.1V335.5M566.5 329.8V342.2M567.5 339.6V353.9M568.5 351.4V365.0M569.5 361.0V374.6M570.5 352.7V374.6M571.5 330.8V355.9M572.5 329.1V343.0M573.5 337.7V352.3M574.5 348.0V360.8M575.5 343.2V356.9M575.5 357.6V358.6M576.5 332.8V349.0M577.5 326.8V339.2M578.5 317.6V333.7M579.5 312.7V323.4M580.5 308.7V315.9M581.5 300.8V312.4M582.5 304.9V319.3M583.5 315.9V330.0M583.5 330.9V332.1M584.5 325.9V335.5M585.5 327.9V338.6M586.5 318.4V336.9M587.5 319.1V337.8M588.5 331.5V350.4M589.5 345.7V358.3M590.5 356.2V365.4M591.5 354.6V368.8M591.5 369.8V371.0M592.5 336.8V357.5M593.5 326.3V342.0M594.5 332.0V344.4M595.5 341.2V355.3M596.5 342.3V354.8M597.5 336.2V348.7M598.5 327.5V342.4M599.5 321.5V332.4M600.5 311.8V324.9M601.5 312.0V322.1M602.5 307.4V317.3M603.5 307.0V318.7M604.5 315.7V327.4M605.5 322.7V331.9M605.5 332.6V335.0M606.5 326.1V340.1M607.5 322.0V339.3M608.5 315.3V330.1M609.5 325.7V344.0M610.5 339.9V351.5M611.5 343.7V351.5M612.5 342.2V356.6M613.5 338.3V354.1M613.5 355.9V357.6M614.5 336.4V350.9M615.5 329.7V344.9M616.5 330.8V331.6M616.5 335.9V346.1M617.5 330.4V344.0M618.5 333.6V347.0M619.5 333.7V342.2M620.5 327.2V344.4M621.5 330.9V344.6M622.5 332.1V346.4M623.5 329.9V346.6M624.5 332.6V345.1M625.5 327.5V343.4M626.5 332.6V342.5M627.5 336.6V346.3M628.5 330.8V345.1M629.5 331.8V343.2M630.5 333.3V346.1M631.5 334.2V343.7M631.5 346.5V347.7M632.5 333.0V343.6M633.5 332.6V343.7M634.5 333.2V344.5M635.5 331.7V343.3M636.5 332.6V341.8M637.5 331.4V342.9M638.5 328.3V329.2M638.5 330.4V343.5M639.5 328.1V346.3M640.5 326.5V327.7M640.5 330.4V345.9M641.5 333.4V342.1M642.5 332.6V342.8M643.5 332.8V345.4M644.5 333.5V344.1M645.5 329.9V346.3M646.5 335.0V346.2M647.5 334.9V348.7M648.5 333.7V334.5M648.5 335.9V350.5M649.5 334.2V351.2M650.5 337.7V353.1M651.5 333.5V339.0M651.5 339.9V347.9M651.5 348.6V351.6M652.5 335.9V350.2M653.5 332.9V351.7M654.5 337.3V353.5M655.5 335.1V350.9M656.5 337.1V351.2M657.5 333.6V351.8M658.5 333.9V349.8M659.5 335.7V353.6M660.5 336.8V337.5M660.5 338.9V350.0M661.5 337.8V349.8M662.5 335.6V350.6M663.5 339.3V354.0M664.5 338.4V353.6M665.5 337.4V351.0M666.5 335.9V350.6M667.5 334.7V350.1M668.5 338.4V351.5M669.5 335.6V354.1M670.5 340.2V355.7M671.5 336.6V354.3M672.5 334.4V351.8M673.5 339.4V351.7M674.5 337.9V353.3M675.5 338.5V353.5M676.5 340.3V356.2M677.5 337.7V351.1M678.5 337.5V354.3M679.5 336.9V354.8M680.5 336.0V353.1M681.5 340.2V352.2M682.5 334.6V353.2M683.5 338.4V356.9M684.5 336.1V350.5M684.5 351.5V352.7M685.5 340.7V357.5M686.5 336.7V353.1M687.5 340.5V354.0M688.5 338.3V354.5M689.5 338.6V356.7M690.5 337.3V354.8M691.5 336.0V337.6M691.5 339.4V350.7M692.5 329.6V349.7M693.5 332.4V348.4M694.5 334.9V349.7M695.5 335.7V345.1M695.5 345.7V346.9M696.5 332.6V346.6M697.5 319.1V324.5M697.5 337.9V344.0M698.5 239.1V248.9M699.5 156.2V173.5M700.5 138.4V157.9M701.5 137.3V146.8M702.5 142.7V154.4M703.5 135.7V148.0M704.5 133.5V146.2M705.5 138.9V148.0M706.5 142.4V150.6M707.5 140.4V149.2M708.5 138.7V148.0M708.5 149.7V150.8M709.5 139.3V148.1M710.5 140.9V151.2M711.5 141.6V153.0M712.5 138.8V155.3M713.5 144.6V155.4M714.5 142.6V157.1M715.5 142.9V157.6M716.5 144.0V158.9M717.5 143.8V158.0M718.5 143.7V157.2M719.5 143.1V155.8M720.5 146.2V156.1M721.5 146.6V155.5M722.5 144.3V155.3M723.5 142.7V152.3M724.5 141.5V153.9M725.5 140.6V144.4M725.5 145.3V154.4M726.5 144.7V158.2M727.5 145.0V155.9M727.5 157.1V158.3M728.5 144.5V158.3M729.5 145.8V153.3M729.5 154.5V157.1M729.5 159.0V159.4M730.5 148.2V157.9M731.5 142.9V157.6M732.5 145.2V157.6M733.5 143.2V158.8M734.5 143.5V144.7M734.5 146.5V160.2M735.5 141.4V158.4M736.5 140.2V141.4M736.5 141.9V143.2M736.5 144.7V157.7M737.5 143.5V155.1M738.5 145.0V156.5M739.5 145.2V155.8M740.5 143.8V155.5M741.5 145.4V153.9M741.5 155.1V156.4M742.5 144.4V156.3M743.5 142.8V144.7M743.5 145.8V158.6M744.5 143.5V157.8M745.5 145.1V159.4M746.5 145.0V152.5M746.5 153.3V162.0M747.5 143.3V161.9M748.5 143.0V155.8M748.5 156.9V157.8M749.5 141.3V158.4M750.5 144.6V154.8M750.5 156.7V158.6M751.5 144.2V159.1M752.5 144.2V156.8M753.5 145.3V159.1M754.5 144.0V159.2M755.5 148.5V160.0M756.5 145.6V156.9M757.5 149.0V159.1M758.5 148.0V162.2M759.5 146.2V156.0M760.5 145.0V157.5M761.5 143.8V156.1M762.5 142.6V155.8M763.5 143.2V156.8M764.5 142.1V143.6M764.5 144.1V156.6M765.5 145.3V156.5M766.5 145.9V159.4M767.5 147.0V158.0M768.5 146.7V148.1M768.5 150.0V157.2M768.5 157.9V159.1M769.5 143.9V159.2M770.5 145.0V159.1M771.5 147.3V157.9M772.5 146.7V157.3M773.5 144.2V158.5M774.5 147.1V157.9M775.5 150.0V159.2M776.5 149.0V159.2M777.5 143.5V144.3M777.5 147.7V149.3M777.5 149.9V156.0M777.5 157.1V161.3M778.5 147.9V159.6M779.5 145.3V147.9M779.5 150.1V159.5M780.5 146.7V157.9M780.5 158.4V159.8M781.5 147.0V156.9M781.5 159.5V159.8M782.5 147.0V159.9M783.5 145.4V157.7"/><path stroke="#7c7cff" d="M96.5 151.2V157.7M97.5 155.8V171.1M97.5 175.5V217.4M98.5 215.7V277.9M99.5 276.3V300.4M99.5 303.7V327.1M100.5 325.7V335.7M697.5 287.2V321.0M697.5 321.9V341.9M698.5 209.3V241.3M698.5 247.3V289.3M699.5 171.7V211.2"/></g>
<g stroke="#262626" fill="none"><line x1="32.85" y1="34.2" x2="784.35" y2="34.2" stroke-dasharray="1.5 1.5" stroke-width="1.5"/><line x1="32.85" y1="637.2" x2="784.35" y2="637.2" stroke-dasharray="1.5 1.5" stroke-width="1.5"/><line x1="32.1" y1="34.95" x2="32.1" y2="636.45" stroke-dasharray="1.5 1.5" stroke-width="1.5"/><line x1="783.6" y1="34.95" x2="783.6" y2="636.45" stroke-dasharray="1.5 1.5" stroke-width="1.5"/><line x1="408.6" y1="34.95" x2="408.6" y2="636.45" stroke-dasharray="1.5 1.5" stroke-width="1.5"/><line x1="32.85" y1="335.7" x2="784.35" y2="335.7" stroke-dasharray="1.5 1.5" stroke-width="1.5"/><line x1="108.6" y1="49.95" x2="108.6" y2="621.45" stroke-dasharray="1.5 13.5" stroke-width="1.5"/><line x1="183.6" y1="49.95" x2="183.6" y2="621.45" stroke-dasharray="1.5 13.5" stroke-width="1.5"/><line x1="258.6" y1="49.95" x2="258.6" y2="621.45" stroke-dasharray="1.5 13.5" stroke-width="1.5"/><line x1="333.6" y1="49.95" x2="333.6" y2="621.45" stroke-dasharray="1.5 13.5" stroke-width="1.5"/><line x1="483.6" y1="49.95" x2="483.6" y2="621.45" stroke-dasharray="1.5 13.5" stroke-width="1.5"/><line x1="558.6" y1="49.95" x2="558.6" y2="621.45" stroke-dasharray="1.5 13.5" stroke-width="1.5"/><line x1="633.6" y1="49.95" x2="633.6" y2="621.45" stroke-dasharray="1.5 13.5" stroke-width="1.5"/><line x1="708.6" y1="49.95" x2="708.6" y2="621.45" stroke-dasharray="1.5 13.5" stroke-width="1.5"/><line x1="47.85" y1="110.7" x2="769.35" y2="110.7" stroke-dasharray="1.5 13.5" stroke-width="1.5"/><line x1="47.85" y1="185.7" x2="769.35" y2="185.7" stroke-dasharray="1.5 13.5" stroke-width="1.5"/><line x1="47.85" y1="260.7" x2="769.35" y2="260.7" stroke-dasharray="1.5 13.5" stroke-width="1.5"/><line x1="47.85" y1="410.7" x2="769.35" y2="410.7" stroke-dasharray="1.5 13.5" stroke-width="1.5"/><line x1="47.85" y1="485.7" x2="769.35" y2="485.7" stroke-dasharray="1.5 13.5" stroke-width="1.5"/><line x1="47.85" y1="560.7" x2="769.35" y2="560.7" stroke-dasharray="1.5 13.5" stroke-width="1.5"/></g><path fill="#262626" d="M31.35 33.45h1.5v1.5h-1.5zM782.85 33.45h1.5v1.5h-1.5zM31.35 636.45h1.5v1.5h-1.5zM782.85 636.45h1.5v1.5h-1.5zM47.85 33.45h1.5v3h-1.5zM47.85 37.95h1.5v1.5h-1.5zM47.85 634.95h1.5v3h-1.5zM47.85 631.95h1.5v1.5h-1.5zM62.85 33.45h1.5v3h-1.5zM62.85 37.95h1.5v1.5h-1.5zM62.85 634.95h1.5v3h-1.5zM62.85 631.95h1.5v1.5h-1.5zM77.85 33.45h1.5v3h-1.5zM77.85 37.95h1.5v1.5h-1.5zM77.85 634.95h1.5v3h-1.5zM77.85 631.95h1.5v1.5h-1.5zM92.85 33.45h1.5v3h-1.5zM92.85 37.95h1.5v1.5h-1.5zM92.85 634.95h1.5v3h-1.5zM92.85 631.95h1.5v1.5h-1.5zM107.85 36.45h1.5v1.5h-1.5zM107.85 633.45h1.5v1.5h-1.5zM107.85 39.45h1.5v1.5h-1.5zM107.85 630.45h1.5v1.5h-1.5zM107.85 42.45h1.5v1.5h-1.5zM107.85 627.45h1.5v1.5h-1.5zM122.85 33.45h1.5v3h-1.5zM122.85 37.95h1.5v1.5h-1.5zM122.85 634.95h1.5v3h-1.5zM122.85 631.95h1.5v1.5h-1.5zM137.85 33.45h1.5v3h-1.5zM137.85 37.95h1.5v1.5h-1.5zM137.85 634.95h1.5v3h-1.5zM137.85 631.95h1.5v1.5h-1.5zM152.85 33.45h1.5v3h-1.5zM152.85 37.95h1.5v1.5h-1.5zM152.85 634.95h1.5v3h-1.5zM152.85 631.95h1.5v1.5h-1.5zM167.85 33.45h1.5v3h-1.5zM167.85 37.95h1.5v1.5h-1.5zM167.85 634.95h1.5v3h-1.5zM167.85 631.95h1.5v1.5h-1.5zM182.85 36.45h1.5v1.5h-1.5zM182.85 633.45h1.5v1.5h-1.5zM182.85 39.45h1.5v1.5h-1.5zM182.85 630.45h1.5v1.5h-1.5zM182.85 42.45h1.5v1.5h-1.5zM182.85 627.45h1.5v1.5h-1.5zM197.85 33.45h1.5v3h-1.5zM197.85 37.95h1.5v1.5h-1.5zM197.85 634.95h1.5v3h-1.5zM197.85 631.95h1.5v1.5h-1.5zM212.85 33.45h1.5v3h-1.5zM212.85 37.95h1.5v1.5h-1.5zM212.85 634.95h1.5v3h-1.5zM212.85 631.95h1.5v1.5h-1.5zM227.85 33.45h1.5v3h-1.5zM227.85 37.95h1.5v1.5h-1.5zM227.85 634.95h1.5v3h-1.5zM227.85 631.95h1.5v1.5h-1.5zM242.85 33.45h1.5v3h-1.5zM242.85 37.95h1.5v1.5h-1.5zM242.85 634.95h1.5v3h-1.5zM242.85 631.95h1.5v1.5h-1.5zM257.85 36.45h1.5v1.5h-1.5zM257.85 633.45h1.5v1.5h-1.5zM257.85 39.45h1.5v1.5h-1.5zM257.85 630.45h1.5v1.5h-1.5zM257.85 42.45h1.5v1.5h-1.5zM257.85 627.45h1.5v1.5h-1.5zM272.85 33.45h1.5v3h-1.5zM272.85 37.95h1.5v1.5h-1.5zM272.85 634.95h1.5v3h-1.5zM272.85 631.95h1.5v1.5h-1.5zM287.85 33.45h1.5v3h-1.5zM287.85 37.95h1.5v1.5h-1.5zM287.85 634.95h1.5v3h-1.5zM287.85 631.95h1.5v1.5h-1.5zM302.85 33.45h1.5v3h-1.5zM302.85 37.95h1.5v1.5h-1.5zM302.85 634.95h1.5v3h-1.5zM302.85 631.95h1.5v1.5h-1.5zM317.85 33.45h1.5v3h-1.5zM317.85 37.95h1.5v1.5h-1.5zM317.85 634.95h1.5v3h-1.5zM317.85 631.95h1.5v1.5h-1.5zM332.85 36.45h1.5v1.5h-1.5zM332.85 633.45h1.5v1.5h-1.5zM332.85 39.45h1.5v1.5h-1.5zM332.85 630.45h1.5v1.5h-1.5zM332.85 42.45h1.5v1.5h-1.5zM332.85 627.45h1.5v1.5h-1.5zM347.85 33.45h1.5v3h-1.5zM347.85 37.95h1.5v1.5h-1.5zM347.85 634.95h1.5v3h-1.5zM347.85 631.95h1.5v1.5h-1.5zM362.85 33.45h1.5v3h-1.5zM362.85 37.95h1.5v1.5h-1.5zM362.85 634.95h1.5v3h-1.5zM362.85 631.95h1.5v1.5h-1.5zM377.85 33.45h1.5v3h-1.5zM377.85 37.95h1.5v1.5h-1.5zM377.85 634.95h1.5v3h-1.5zM377.85 631.95h1.5v1.5h-1.5zM392.85 33.45h1.5v3h-1.5zM392.85 37.95h1.5v1.5h-1.5zM392.85 634.95h1.5v3h-1.5zM392.85 631.95h1.5v1.5h-1.5zM422.85 33.45h1.5v3h-1.5zM422.85 37.95h1.5v1.5h-1.5zM422.85 634.95h1.5v3h-1.5zM422.85 631.95h1.5v1.5h-1.5zM437.85 33.45h1.5v3h-1.5zM437.85 37.95h1.5v1.5h-1.5zM437.85 634.95h1.5v3h-1.5zM437.85 631.95h1.5v1.5h-1.5zM452.85 33.45h1.5v3h-1.5zM452.85 37.95h1.5v1.5h-1.5zM452.85 634.95h1.5v3h-1.5zM452.85 631.95h1.5v1.5h-1.5zM467.85 33.45h1.5v3h-1.5zM467.85 37.95h1.5v1.5h-1.5zM467.85 634.95h1.5v3h-1.5zM467.85 631.95h1.5v1.5h-1.5zM482.85 36.45h1.5v1.5h-1.5zM482.85 633.45h1.5v1.5h-1.5zM482.85 39.45h1.5v1.5h-1.5zM482.85 630.45h1.5v1.5h-1.5zM482.85 42.45h1.5v1.5h-1.5zM482.85 627.45h1.5v1.5h-1.5zM497.85 33.45h1.5v3h-1.5zM497.85 37.95h1.5v1.5h-1.5zM497.85 634.95h1.5v3h-1.5zM497.85 631.95h1.5v1.5h-1.5zM512.85 33.45h1.5v3h-1.5zM512.85 37.95h1.5v1.5h-1.5zM512.85 634.95h1.5v3h-1.5zM512.85 631.95h1.5v1.5h-1.5zM527.85 33.45h1.5v3h-1.5zM527.85 37.95h1.5v1.5h-1.5zM527.85 634.95h1.5v3h-1.5zM527.85 631.95h1.5v1.5h-1.5zM542.85 33.45h1.5v3h-1.5zM542.85 37.95h1.5v1.5h-1.5zM542.85 634.95h1.5v3h-1.5zM542.85 631.95h1.5v1.5h-1.5zM557.85 36.45h1.5v1.5h-1.5zM557.85 633.45h1.5v1.5h-1.5zM557.85 39.45h1.5v1.5h-1.5zM557.85 630.45h1.5v1.5h-1.5zM557.85 42.45h1.5v1.5h-1.5zM557.85 627.45h1.5v1.5h-1.5zM572.85 33.45h1.5v3h-1.5zM572.85 37.95h1.5v1.5h-1.5zM572.85 634.95h1.5v3h-1.5zM572.85 631.95h1.5v1.5h-1.5zM587.85 33.45h1.5v3h-1.5zM587.85 37.95h1.5v1.5h-1.5zM587.85 634.95h1.5v3h-1.5zM587.85 631.95h1.5v1.5h-1.5zM602.85 33.45h1.5v3h-1.5zM602.85 37.95h1.5v1.5h-1.5zM602.85 634.95h1.5v3h-1.5zM602.85 631.95h1.5v1.5h-1.5zM617.85 33.45h1.5v3h-1.5zM617.85 37.95h1.5v1.5h-1.5zM617.85 634.95h1.5v3h-1.5zM617.85 631.95h1.5v1.5h-1.5zM632.85 36.45h1.5v1.5h-1.5zM632.85 633.45h1.5v1.5h-1.5zM632.85 39.45h1.5v1.5h-1.5zM632.85 630.45h1.5v1.5h-1.5zM632.85 42.45h1.5v1.5h-1.5zM632.85 627.45h1.5v1.5h-1.5zM647.85 33.45h1.5v3h-1.5zM647.85 37.95h1.5v1.5h-1.5zM647.85 634.95h1.5v3h-1.5zM647.85 631.95h1.5v1.5h-1.5zM662.85 33.45h1.5v3h-1.5zM662.85 37.95h1.5v1.5h-1.5zM662.85 634.95h1.5v3h-1.5zM662.85 631.95h1.5v1.5h-1.5zM677.85 33.45h1.5v3h-1.5zM677.85 37.95h1.5v1.5h-1.5zM677.85 634.95h1.5v3h-1.5zM677.85 631.95h1.5v1.5h-1.5zM692.85 33.45h1.5v3h-1.5zM692.85 37.95h1.5v1.5h-1.5zM692.85 634.95h1.5v3h-1.5zM692.85 631.95h1.5v1.5h-1.5zM707.85 36.45h1.5v1.5h-1.5zM707.85 633.45h1.5v1.5h-1.5zM707.85 39.45h1.5v1.5h-1.5zM707.85 630.45h1.5v1.5h-1.5zM707.85 42.45h1.5v1.5h-1.5zM707.85 627.45h1.5v1.5h-1.5zM722.85 33.45h1.5v3h-1.5zM722.85 37.95h1.5v1.5h-1.5zM722.85 634.95h1.5v3h-1.5zM722.85 631.95h1.5v1.5h-1.5zM737.85 33.45h1.5v3h-1.5zM737.85 37.95h1.5v1.5h-1.5zM737.85 634.95h1.5v3h-1.5zM737.85 631.95h1.5v1.5h-1.5zM752.85 33.45h1.5v3h-1.5zM752.85 37.95h1.5v1.5h-1.5zM752.85 634.95h1.5v3h-1.5zM752.85 631.95h1.5v1.5h-1.5zM767.85 33.45h1.5v3h-1.5zM767.85 37.95h1.5v1.5h-1.5zM767.85 634.95h1.5v3h-1.5zM767.85 631.95h1.5v1.5h-1.5zM31.35 49.95h3v1.5h-3zM35.85 49.95h1.5v1.5h-1.5zM781.35 49.95h3v1.5h-3zM778.35 49.95h1.5v1.5h-1.5zM31.35 64.95h3v1.5h-3zM35.85 64.95h1.5v1.5h-1.5zM781.35 64.95h3v1.5h-3zM778.35 64.95h1.5v1.5h-1.5zM31.35 79.95h3v1.5h-3zM35.85 79.95h1.5v1.5h-1.5zM781.35 79.95h3v1.5h-3zM778.35 79.95h1.5v1.5h-1.5zM31.35 94.95h3v1.5h-3zM35.85 94.95h1.5v1.5h-1.5zM781.35 94.95h3v1.5h-3zM778.35 94.95h1.5v1.5h-1.5zM34.35 109.95h1.5v1.5h-1.5zM779.85 109.95h1.5v1.5h-1.5zM37.35 109.95h1.5v1.5h-1.5zM776.85 109.95h1.5v1.5h-1.5zM40.35 109.95h1.5v1.5h-1.5zM773.85 109.95h1.5v1.5h-1.5zM31.35 124.95h3v1.5h-3zM35.85 124.95h1.5v1.5h-1.5zM781.35 124.95h3v1.5h-3zM778.35 124.95h1.5v1.5h-1.5zM31.35 139.95h3v1.5h-3zM35.85 139.95h1.5v1.5h-1.5zM781.35 139.95h3v1.5h-3zM778.35 139.95h1.5v1.5h-1.5zM31.35 154.95h3v1.5h-3zM35.85 154.95h1.5v1.5h-1.5zM781.35 154.95h3v1.5h-3zM778.35 154.95h1.5v1.5h-1.5zM31.35 169.95h3v1.5h-3zM35.85 169.95h1.5v1.5h-1.5zM781.35 169.95h3v1.5h-3zM778.35 169.95h1.5v1.5h-1.5zM34.35 184.95h1.5v1.5h-1.5zM779.85 184.95h1.5v1.5h-1.5zM37.35 184.95h1.5v1.5h-1.5zM776.85 184.95h1.5v1.5h-1.5zM40.35 184.95h1.5v1.5h-1.5zM773.85 184.95h1.5v1.5h-1.5zM31.35 199.95h3v1.5h-3zM35.85 199.95h1.5v1.5h-1.5zM781.35 199.95h3v1.5h-3zM778.35 199.95h1.5v1.5h-1.5zM31.35 214.95h3v1.5h-3zM35.85 214.95h1.5v1.5h-1.5zM781.35 214.95h3v1.5h-3zM778.35 214.95h1.5v1.5h-1.5zM31.35 229.95h3v1.5h-3zM35.85 229.95h1.5v1.5h-1.5zM781.35 229.95h3v1.5h-3zM778.35 229.95h1.5v1.5h-1.5zM31.35 244.95h3v1.5h-3zM35.85 244.95h1.5v1.5h-1.5zM781.35 244.95h3v1.5h-3zM778.35 244.95h1.5v1.5h-1.5zM34.35 259.95h1.5v1.5h-1.5zM779.85 259.95h1.5v1.5h-1.5zM37.35 259.95h1.5v1.5h-1.5zM776.85 259.95h1.5v1.5h-1.5zM40.35 259.95h1.5v1.5h-1.5zM773.85 259.95h1.5v1.5h-1.5zM31.35 274.95h3v1.5h-3zM35.85 274.95h1.5v1.5h-1.5zM781.35 274.95h3v1.5h-3zM778.35 274.95h1.5v1.5h-1.5zM31.35 289.95h3v1.5h-3zM35.85 289.95h1.5v1.5h-1.5zM781.35 289.95h3v1.5h-3zM778.35 289.95h1.5v1.5h-1.5zM31.35 304.95h3v1.5h-3zM35.85 304.95h1.5v1.5h-1.5zM781.35 304.95h3v1.5h-3zM778.35 304.95h1.5v1.5h-1.5zM31.35 319.95h3v1.5h-3zM35.85 319.95h1.5v1.5h-1.5zM781.35 319.95h3v1.5h-3zM778.35 319.95h1.5v1.5h-1.5zM34.35 334.95h1.5v1.5h-1.5zM779.85 334.95h1.5v1.5h-1.5zM37.35 334.95h1.5v1.5h-1.5zM776.85 334.95h1.5v1.5h-1.5zM40.35 334.95h1.5v1.5h-1.5zM773.85 334.95h1.5v1.5h-1.5zM31.35 349.95h3v1.5h-3zM35.85 349.95h1.5v1.5h-1.5zM781.35 349.95h3v1.5h-3zM778.35 349.95h1.5v1.5h-1.5zM31.35 364.95h3v1.5h-3zM35.85 364.95h1.5v1.5h-1.5zM781.35 364.95h3v1.5h-3zM778.35 364.95h1.5v1.5h-1.5zM31.35 379.95h3v1.5h-3zM35.85 379.95h1.5v1.5h-1.5zM781.35 379.95h3v1.5h-3zM778.35 379.95h1.5v1.5h-1.5zM31.35 394.95h3v1.5h-3zM35.85 394.95h1.5v1.5h-1.5zM781.35 394.95h3v1.5h-3zM778.35 394.95h1.5v1.5h-1.5zM34.35 409.95h1.5v1.5h-1.5zM779.85 409.95h1.5v1.5h-1.5zM37.35 409.95h1.5v1.5h-1.5zM776.85 409.95h1.5v1.5h-1.5zM40.35 409.95h1.5v1.5h-1.5zM773.85 409.95h1.5v1.5h-1.5zM31.35 424.95h3v1.5h-3zM35.85 424.95h1.5v1.5h-1.5zM781.35 424.95h3v1.5h-3zM778.35 424.95h1.5v1.5h-1.5zM31.35 439.95h3v1.5h-3zM35.85 439.95h1.5v1.5h-1.5zM781.35 439.95h3v1.5h-3zM778.35 439.95h1.5v1.5h-1.5zM31.35 454.95h3v1.5h-3zM35.85 454.95h1.5v1.5h-1.5zM781.35 454.95h3v1.5h-3zM778.35 454.95h1.5v1.5h-1.5zM31.35 469.95h3v1.5h-3zM35.85 469.95h1.5v1.5h-1.5zM781.35 469.95h3v1.5h-3zM778.35 469.95h1.5v1.5h-1.5zM34.35 484.95h1.5v1.5h-1.5zM779.85 484.95h1.5v1.5h-1.5zM37.35 484.95h1.5v1.5h-1.5zM776.85 484.95h1.5v1.5h-1.5zM40.35 484.95h1.5v1.5h-1.5zM773.85 484.95h1.5v1.5h-1.5zM31.35 499.95h3v1.5h-3zM35.85 499.95h1.5v1.5h-1.5zM781.35 499.95h3v1.5h-3zM778.35 499.95h1.5v1.5h-1.5zM31.35 514.95h3v1.5h-3zM35.85 514.95h1.5v1.5h-1.5zM781.35 514.95h3v1.5h-3zM778.35 514.95h1.5v1.5h-1.5zM31.35 529.95h3v1.5h-3zM35.85 529.95h1.5v1.5h-1.5zM781.35 529.95h3v1.5h-3zM778.35 529.95h1.5v1.5h-1.5zM31.35 544.95h3v1.5h-3zM35.85 544.95h1.5v1.5h-1.5zM781.35 544.95h3v1.5h-3zM778.35 544.95h1.5v1.5h-1.5zM34.35 559.95h1.5v1.5h-1.5zM779.85 559.95h1.5v1.5h-1.5zM37.35 559.95h1.5v1.5h-1.5zM776.85 559.95h1.5v1.5h-1.5zM40.35 559.95h1.5v1.5h-1.5zM773.85 559.95h1.5v1.5h-1.5zM31.35 574.95h3v1.5h-3zM35.85 574.95h1.5v1.5h-1.5zM781.35 574.95h3v1.5h-3zM778.35 574.95h1.5v1.5h-1.5zM31.35 589.95h3v1.5h-3zM35.85 589.95h1.5v1.5h-1.5zM781.35 589.95h3v1.5h-3zM778.35 589.95h1.5v1.5h-1.5zM31.35 604.95h3v1.5h-3zM35.85 604.95h1.5v1.5h-1.5zM781.35 604.95h3v1.5h-3zM778.35 604.95h1.5v1.5h-1.5zM31.35 619.95h3v1.5h-3zM35.85 619.95h1.5v1.5h-1.5zM781.35 619.95h3v1.5h-3zM778.35 619.95h1.5v1.5h-1.5zM406.35 49.95h4.5v1.5h-4.5zM403.35 49.95h1.5v1.5h-1.5zM412.35 49.95h1.5v1.5h-1.5zM406.35 64.95h4.5v1.5h-4.5zM403.35 64.95h1.5v1.5h-1.5zM412.35 64.95h1.5v1.5h-1.5zM406.35 79.95h4.5v1.5h-4.5zM403.35 79.95h1.5v1.5h-1.5zM412.35 79.95h1.5v1.5h-1.5zM406.35 94.95h4.5v1.5h-4.5zM403.35 94.95h1.5v1.5h-1.5zM412.35 94.95h1.5v1.5h-1.5zM404.85 109.95h1.5v1.5h-1.5zM410.85 109.95h1.5v1.5h-1.5zM401.85 109.95h1.5v1.5h-1.5zM413.85 109.95h1.5v1.5h-1.5zM398.85 109.95h1.5v1.5h-1.5zM416.85 109.95h1.5v1.5h-1.5zM406.35 124.95h4.5v1.5h-4.5zM403.35 124.95h1.5v1.5h-1.5zM412.35 124.95h1.5v1.5h-1.5zM406.35 139.95h4.5v1.5h-4.5zM403.35 139.95h1.5v1.5h-1.5zM412.35 139.95h1.5v1.5h-1.5zM406.35 154.95h4.5v1.5h-4.5zM403.35 154.95h1.5v1.5h-1.5zM412.35 154.95h1.5v1.5h-1.5zM406.35 169.95h4.5v1.5h-4.5zM403.35 169.95h1.5v1.5h-1.5zM412.35 169.95h1.5v1.5h-1.5zM404.85 184.95h1.5v1.5h-1.5zM410.85 184.95h1.5v1.5h-1.5zM401.85 184.95h1.5v1.5h-1.5zM413.85 184.95h1.5v1.5h-1.5zM398.85 184.95h1.5v1.5h-1.5zM416.85 184.95h1.5v1.5h-1.5zM406.35 199.95h4.5v1.5h-4.5zM403.35 199.95h1.5v1.5h-1.5zM412.35 199.95h1.5v1.5h-1.5zM406.35 214.95h4.5v1.5h-4.5zM403.35 214.95h1.5v1.5h-1.5zM412.35 214.95h1.5v1.5h-1.5zM406.35 229.95h4.5v1.5h-4.5zM403.35 229.95h1.5v1.5h-1.5zM412.35 229.95h1.5v1.5h-1.5zM406.35 244.95h4.5v1.5h-4.5zM403.35 244.95h1.5v1.5h-1.5zM412.35 244.95h1.5v1.5h-1.5zM404.85 259.95h1.5v1.5h-1.5zM410.85 259.95h1.5v1.5h-1.5zM401.85 259.95h1.5v1.5h-1.5zM413.85 259.95h1.5v1.5h-1.5zM398.85 259.95h1.5v1.5h-1.5zM416.85 259.95h1.5v1.5h-1.5zM406.35 274.95h4.5v1.5h-4.5zM403.35 274.95h1.5v1.5h-1.5zM412.35 274.95h1.5v1.5h-1.5zM406.35 289.95h4.5v1.5h-4.5zM403.35 289.95h1.5v1.5h-1.5zM412.35 289.95h1.5v1.5h-1.5zM406.35 304.95h4.5v1.5h-4.5zM403.35 304.95h1.5v1.5h-1.5zM412.35 304.95h1.5v1.5h-1.5zM406.35 319.95h4.5v1.5h-4.5zM403.35 319.95h1.5v1.5h-1.5zM412.35 319.95h1.5v1.5h-1.5zM404.85 334.95h1.5v1.5h-1.5zM410.85 334.95h1.5v1.5h-1.5zM401.85 334.95h1.5v1.5h-1.5zM413.85 334.95h1.5v1.5h-1.5zM398.85 334.95h1.5v1.5h-1.5zM416.85 334.95h1.5v1.5h-1.5zM406.35 349.95h4.5v1.5h-4.5zM403.35 349.95h1.5v1.5h-1.5zM412.35 349.95h1.5v1.5h-1.5zM406.35 364.95h4.5v1.5h-4.5zM403.35 364.95h1.5v1.5h-1.5zM412.35 364.95h1.5v1.5h-1.5zM406.35 379.95h4.5v1.5h-4.5zM403.35 379.95h1.5v1.5h-1.5zM412.35 379.95h1.5v1.5h-1.5zM406.35 394.95h4.5v1.5h-4.5zM403.35 394.95h1.5v1.5h-1.5zM412.35 394.95h1.5v1.5h-1.5zM404.85 409.95h1.5v1.5h-1.5zM410.85 409.95h1.5v1.5h-1.5zM401.85 409.95h1.5v1.5h-1.5zM413.85 409.95h1.5v1.5h-1.5zM398.85 409.95h1.5v1.5h-1.5zM416.85 409.95h1.5v1.5h-1.5zM406.35 424.95h4.5v1.5h-4.5zM403.35 424.95h1.5v1.5h-1.5zM412.35 424.95h1.5v1.5h-1.5zM406.35 439.95h4.5v1.5h-4.5zM403.35 439.95h1.5v1.5h-1.5zM412.35 439.95h1.5v1.5h-1.5zM406.35 454.95h4.5v1.5h-4.5zM403.35 454.95h1.5v1.5h-1.5zM412.35 454.95h1.5v1.5h-1.5zM406.35 469.95h4.5v1.5h-4.5zM403.35 469.95h1.5v1.5h-1.5zM412.35 469.95h1.5v1.5h-1.5zM404.85 484.95h1.5v1.5h-1.5zM410.85 484.95h1.5v1.5h-1.5zM401.85 484.95h1.5v1.5h-1.5zM413.85 484.95h1.5v1.5h-1.5zM398.85 484.95h1.5v1.5h-1.5zM416.85 484.95h1.5v1.5h-1.5zM406.35 499.95h4.5v1.5h-4.5zM403.35 499.95h1.5v1.5h-1.5zM412.35 499.95h1.5v1.5h-1.5zM406.35 514.95h4.5v1.5h-4.5zM403.35 514.95h1.5v1.5h-1.5zM412.35 514.95h1.5v1.5h-1.5zM406.35 529.95h4.5v1.5h-4.5zM403.35 529.95h1.5v1.5h-1.5zM412.35 529.95h1.5v1.5h-1.5zM406.35 544.95h4.5v1.5h-4.5zM403.35 544.95h1.5v1.5h-1.5zM412.35 544.95h1.5v1.5h-1.5zM404.85 559.95h1.5v1.5h-1.5zM410.85 559.95h1.5v1.5h-1.5zM401.85 559.95h1.5v1.5h-1.5zM413.85 559.95h1.5v1.5h-1.5zM398.85 559.95h1.5v1.5h-1.5zM416.85 559.95h1.5v1.5h-1.5zM406.35 574.95h4.5v1.5h-4.5zM403.35 574.95h1.5v1.5h-1.5zM412.35 574.95h1.5v1.5h-1.5zM406.35 589.95h4.5v1.5h-4.5zM403.35 589.95h1.5v1.5h-1.5zM412.35 589.95h1.5v1.5h-1.5zM406.35 604.95h4.5v1.5h-4.5zM403.35 604.95h1.5v1.5h-1.5zM412.35 604.95h1.5v1.5h-1.5zM406.35 619.95h4.5v1.5h-4.5zM403.35 619.95h1.5v1.5h-1.5zM412.35 619.95h1.5v1.5h-1.5zM47.85 333.45h1.5v4.5h-1.5zM47.85 330.45h1.5v1.5h-1.5zM47.85 339.45h1.5v1.5h-1.5zM62.85 333.45h1.5v4.5h-1.5zM62.85 330.45h1.5v1.5h-1.5zM62.85 339.45h1.5v1.5h-1.5zM77.85 333.45h1.5v4.5h-1.5zM77.85 330.45h1.5v1.5h-1.5zM77.85 339.45h1.5v1.5h-1.5zM92.85 333.45h1.5v4.5h-1.5zM92.85 330.45h1.5v1.5h-1.5zM92.85 339.45h1.5v1.5h-1.5zM107.85 331.95h1.5v1.5h-1.5zM107.85 337.95h1.5v1.5h-1.5zM107.85 328.95h1.5v1.5h-1.5zM107.85 340.95h1.5v1.5h-1.5zM107.85 325.95h1.5v1.5h-1.5zM107.85 343.95h1.5v1.5h-1.5zM122.85 333.45h1.5v4.5h-1.5zM122.85 330.45h1.5v1.5h-1.5zM122.85 339.45h1.5v1.5h-1.5zM137.85 333.45h1.5v4.5h-1.5zM137.85 330.45h1.5v1.5h-1.5zM137.85 339.45h1.5v1.5h-1.5zM152.85 333.45h1.5v4.5h-1.5zM152.85 330.45h1.5v1.5h-1.5zM152.85 339.45h1.5v1.5h-1.5zM167.85 333.45h1.5v4.5h-1.5zM167.85 330.45h1.5v1.5h-1.5zM167.85 339.45h1.5v1.5h-1.5zM182.85 331.95h1.5v1.5h-1.5zM182.85 337.95h1.5v1.5h-1.5zM182.85 328.95h1.5v1.5h-1.5zM182.85 340.95h1.5v1.5h-1.5zM182.85 325.95h1.5v1.5h-1.5zM182.85 343.95h1.5v1.5h-1.5zM197.85 333.45h1.5v4.5h-1.5zM197.85 330.45h1.5v1.5h-1.5zM197.85 339.45h1.5v1.5h-1.5zM212.85 333.45h1.5v4.5h-1.5zM212.85 330.45h1.5v1.5h-1.5zM212.85 339.45h1.5v1.5h-1.5zM227.85 333.45h1.5v4.5h-1.5zM227.85 330.45h1.5v1.5h-1.5zM227.85 339.45h1.5v1.5h-1.5zM242.85 333.45h1.5v4.5h-1.5zM242.85 330.45h1.5v1.5h-1.5zM242.85 339.45h1.5v1.5h-1.5zM257.85 331.95h1.5v1.5h-1.5zM257.85 337.95h1.5v1.5h-1.5zM257.85 328.95h1.5v1.5h-1.5zM257.85 340.95h1.5v1.5h-1.5zM257.85 325.95h1.5v1.5h-1.5zM257.85 343.95h1.5v1.5h-1.5zM272.85 333.45h1.5v4.5h-1.5zM272.85 330.45h1.5v1.5h-1.5zM272.85 339.45h1.5v1.5h-1.5zM287.85 333.45h1.5v4.5h-1.5zM287.85 330.45h1.5v1.5h-1.5zM287.85 339.45h1.5v1.5h-1.5zM302.85 333.45h1.5v4.5h-1.5zM302.85 330.45h1.5v1.5h-1.5zM302.85 339.45h1.5v1.5h-1.5zM317.85 333.45h1.5v4.5h-1.5zM317.85 330.45h1.5v1.5h-1.5zM317.85 339.45h1.5v1.5h-1.5zM332.85 331.95h1.5v1.5h-1.5zM332.85 337.95h1.5v1.5h-1.5zM332.85 328.95h1.5v1.5h-1.5zM332.85 340.95h1.5v1.5h-1.5zM332.85 325.95h1.5v1.5h-1.5zM332.85 343.95h1.5v1.5h-1.5zM347.85 333.45h1.5v4.5h-1.5zM347.85 330.45h1.5v1.5h-1.5zM347.85 339.45h1.5v1.5h-1.5zM362.85 333.45h1.5v4.5h-1.5zM362.85 330.45h1.5v1.5h-1.5zM362.85 339.45h1.5v1.5h-1.5zM377.85 333.45h1.5v4.5h-1.5zM377.85 330.45h1.5v1.5h-1.5zM377.85 339.45h1.5v1.5h-1.5zM392.85 333.45h1.5v4.5h-1.5zM392.85 330.45h1.5v1.5h-1.5zM392.85 339.45h1.5v1.5h-1.5zM422.85 333.45h1.5v4.5h-1.5zM422.85 330.45h1.5v1.5h-1.5zM422.85 339.45h1.5v1.5h-1.5zM437.85 333.45h1.5v4.5h-1.5zM437.85 330.45h1.5v1.5h-1.5zM437.85 339.45h1.5v1.5h-1.5zM452.85 333.45h1.5v4.5h-1.5zM452.85 330.45h1.5v1.5h-1.5zM452.85 339.45h1.5v1.5h-1.5zM467.85 333.45h1.5v4.5h-1.5zM467.85 330.45h1.5v1.5h-1.5zM467.85 339.45h1.5v1.5h-1.5zM482.85 331.95h1.5v1.5h-1.5zM482.85 337.95h1.5v1.5h-1.5zM482.85 328.95h1.5v1.5h-1.5zM482.85 340.95h1.5v1.5h-1.5zM482.85 325.95h1.5v1.5h-1.5zM482.85 343.95h1.5v1.5h-1.5zM497.85 333.45h1.5v4.5h-1.5zM497.85 330.45h1.5v1.5h-1.5zM497.85 339.45h1.5v1.5h-1.5zM512.85 333.45h1.5v4.5h-1.5zM512.85 330.45h1.5v1.5h-1.5zM512.85 339.45h1.5v1.5h-1.5zM527.85 333.45h1.5v4.5h-1.5zM527.85 330.45h1.5v1.5h-1.5zM527.85 339.45h1.5v1.5h-1.5zM542.85 333.45h1.5v4.5h-1.5zM542.85 330.45h1.5v1.5h-1.5zM542.85 339.45h1.5v1.5h-1.5zM557.85 331.95h1.5v1.5h-1.5zM557.85 337.95h1.5v1.5h-1.5zM557.85 328.95h1.5v1.5h-1.5zM557.85 340.95h1.5v1.5h-1.5zM557.85 325.95h1.5v1.5h-1.5zM557.85 343.95h1.5v1.5h-1.5zM572.85 333.45h1.5v4.5h-1.5zM572.85 330.45h1.5v1.5h-1.5zM572.85 339.45h1.5v1.5h-1.5zM587.85 333.45h1.5v4.5h-1.5zM587.85 330.45h1.5v1.5h-1.5zM587.85 339.45h1.5v1.5h-1.5zM602.85 333.45h1.5v4.5h-1.5zM602.85 330.45h1.5v1.5h-1.5zM602.85 339.45h1.5v1.5h-1.5zM617.85 333.45h1.5v4.5h-1.5zM617.85 330.45h1.5v1.5h-1.5zM617.85 339.45h1.5v1.5h-1.5zM632.85 331.95h1.5v1.5h-1.5zM632.85 337.95h1.5v1.5h-1.5zM632.85 328.95h1.5v1.5h-1.5zM632.85 340.95h1.5v1.5h-1.5zM632.85 325.95h1.5v1.5h-1.5zM632.85 343.95h1.5v1.5h-1.5zM647.85 333.45h1.5v4.5h-1.5zM647.85 330.45h1.5v1.5h-1.5zM647.85 339.45h1.5v1.5h-1.5zM662.85 333.45h1.5v4.5h-1.5zM662.85 330.45h1.5v1.5h-1.5zM662.85 339.45h1.5v1.5h-1.5zM677.85 333.45h1.5v4.5h-1.5zM677.85 330.45h1.5v1.5h-1.5zM677.85 339.45h1.5v1.5h-1.5zM692.85 333.45h1.5v4.5h-1.5zM692.85 330.45h1.5v1.5h-1.5zM692.85 339.45h1.5v1.5h-1.5zM707.85 331.95h1.5v1.5h-1.5zM707.85 337.95h1.5v1.5h-1.5zM707.85 328.95h1.5v1.5h-1.5zM707.85 340.95h1.5v1.5h-1.5zM707.85 325.95h1.5v1.5h-1.5zM707.85 343.95h1.5v1.5h-1.5zM722.85 333.45h1.5v4.5h-1.5zM722.85 330.45h1.5v1.5h-1.5zM722.85 339.45h1.5v1.5h-1.5zM737.85 333.45h1.5v4.5h-1.5zM737.85 330.45h1.5v1.5h-1.5zM737.85 339.45h1.5v1.5h-1.5zM752.85 333.45h1.5v4.5h-1.5zM752.85 330.45h1.5v1.5h-1.5zM752.85 339.45h1.5v1.5h-1.5zM767.85 333.45h1.5v4.5h-1.5zM767.85 330.45h1.5v1.5h-1.5zM767.85 339.45h1.5v1.5h-1.5z"/>

<line x1="559.9" y1="38" x2="559.9" y2="637" stroke="#0f9a96" stroke-width="1.8" stroke-dasharray="6 6"/>
<line x1="549" y1="245.5" x2="571.5" y2="245.5" stroke="#0f9a96" stroke-width="1.8"/>
<line x1="654.9" y1="34.5" x2="654.9" y2="637" stroke="#22a6a4" stroke-width="1.8"/>
<line x1="643.6" y1="275.6" x2="665.6" y2="275.6" stroke="#1f8f8d" stroke-width="1.8"/>


<path d="M1.5 260.2H18.6L31.3 272.2L18.6 284.9H1.5Z" fill="#0f9a96"/>
<text x="7.6" y="281" font-family="DejaVu Sans" font-size="21" fill="#fff" stroke="#fff" stroke-width="0.9">2</text>
<path d="M1.2 325.2H18.6L30.6 336.8L18.6 349H1.2Z" fill="#fff" stroke="#0c0c9c" stroke-width="1.6"/>
<text x="7" y="346" font-family="DejaVu Sans" font-weight="bold" font-size="20" fill="#0c0c9c">1</text>
<rect x="765.3" y="316" width="17.6" height="17.6" fill="#fff"/>
<path d="M766.3 325.2L775.3 316.9V333.3Z" fill="#0c0c9c"/>
<line x1="775" y1="325.2" x2="783" y2="325.2" stroke="#0c0c9c" stroke-width="1.8"/>
<rect x="90" y="44" width="21" height="25" fill="#fff"/>
<path d="M93 45.3H108L109.6 47V63.2L100.6 67.8L91.5 63.2V47Z" fill="#ff7a00"/>
<path d="M93.2 47.4H108V49.9H102V63.6H98.8V49.9H93.2Z" fill="#fff"/>
<path d="M401 35H417L409 43.2Z" fill="#ff7a00"/>


<line x1="139.2" y1="6.3" x2="139.2" y2="30" stroke="#8a8a8a" stroke-width="1.5"/>
<line x1="677.3" y1="7" x2="677.3" y2="30" stroke="#a0a0a0" stroke-width="1.5"/>
<path d="M250.3 7.4H247V28H250.3" fill="none" stroke="#1a1a1a" stroke-width="1.9"/>
<path d="M565.5 7.4H569V28H565.5" fill="none" stroke="#1a1a1a" stroke-width="1.9"/>
<line x1="247" y1="17.8" x2="569" y2="17.8" stroke="#1aa3a0" stroke-width="1.6"/>
<line x1="476" y1="9" x2="476" y2="27" stroke="#1aa3a0" stroke-width="1.6" stroke-dasharray="4.5 3"/>
<line x1="516.6" y1="7" x2="516.6" y2="29" stroke="#1aa3a0" stroke-width="1.6"/>
<path d="M271.5 12.3H280.6L282.1 13.8V27.6L280.6 29.1H271.5L270 27.6V13.8Z" fill="#ff7a00"/>
<path d="M271.8 13.8H280.5V16H277.6V27.8H274.7V16H271.8Z" fill="#fff"/>
<path d="M403 7H414.5L408.8 12.4Z" fill="#ff7a00"/>
<path d="M555.5 0L559.5 3.6" stroke="#d40000" stroke-width="2.2"/>
<path d="M741 0L738 3.7" stroke="#d40000" stroke-width="2.2"/>


<text transform="translate(0.2 27.6) scale(1.035 1.07)" font-family="Liberation Serif, serif" font-weight="bold" font-size="28.5" fill="#000" stroke="#000" stroke-width="0.4">Tek</text>
<text x="51.8" y="27.2" font-family="Liberation Sans, Noto Sans CJK SC, sans-serif" font-weight="350" font-size="26.5" fill="#111">运行</text>
<text x="684" y="27.2" font-family="Liberation Sans, Noto Sans CJK SC, sans-serif" font-weight="350" font-size="27" fill="#111">已被触发</text>
<g font-family="DejaVu Sans, sans-serif">
<g font-size="21" fill="#0f9a96" stroke="#0f9a96" stroke-width="0.7">
<text transform="translate(796.4 54.3) scale(1.31 1)">Δ</text><text x="819.5" y="54.3">:</text>
<text x="796.6" y="78">@</text><text x="819.5" y="78">:</text>
<text transform="translate(796.4 114) scale(1.31 1)">Δ</text><text x="819.5" y="114">:</text>
<text x="796.6" y="138">@</text><text x="819.5" y="138">:</text>
</g>
<text x="856.2" y="53.6" font-size="21" fill="#0f9a96" stroke="#0f9a96" stroke-width="0.7" textLength="81.2" lengthAdjust="spacing">800mV</text>
<text x="841.0" y="78" font-size="21" fill="#0f9a96" stroke="#0f9a96" stroke-width="0.7" textLength="109.0" lengthAdjust="spacing">−80.0mV</text>
<text x="860.0" y="113.6" font-size="21" fill="#0f9a96" stroke="#0f9a96" stroke-width="0.7" textLength="71.6" lengthAdjust="spacing">504ns</text>
<text x="856.2" y="137.2" font-size="21" fill="#0f9a96" stroke="#0f9a96" stroke-width="0.7" textLength="82.0" lengthAdjust="spacing">2.95μs</text>
</g>


<g font-family="DejaVu Sans, sans-serif">
<text x="29.2" y="662" font-size="22" fill="#0c0c9c" stroke="#0c0c9c" stroke-width="0.8" textLength="43.8" lengthAdjust="spacing">Ch1</text>
<text x="103.6" y="662" font-size="22" fill="#0c0c9c" stroke="#0c0c9c" stroke-width="0.8" textLength="75.0" lengthAdjust="spacing">2.00 V</text>
<text x="301.2" y="662" font-size="22" fill="#0f9a96" stroke="#0f9a96" stroke-width="0.8" textLength="75.4" lengthAdjust="spacing">2.00 V</text>
<text x="424.6" y="662" font-size="22" fill="#111" stroke="#111" stroke-width="0.8">M</text>
<text x="454.6" y="662" font-size="22" fill="#111" stroke="#111" stroke-width="0.8" textLength="73.0" lengthAdjust="spacing">400ns</text>
<text x="558.6" y="662" font-size="22" fill="#111" stroke="#111" stroke-width="0.8">A</text>
<text x="596.0" y="662" font-size="22" fill="#0c0c9c" stroke="#0c0c9c" stroke-width="0.8" textLength="43.4" lengthAdjust="spacing">Ch1</text>
<text x="703.2" y="662" font-size="22" fill="#111" stroke="#111" stroke-width="0.8" textLength="78.4" lengthAdjust="spacing">320mV</text>
</g>
<rect x="226.1" y="642.3" width="47.4" height="24.2" fill="#0f9a96"/>
<g font-family="DejaVu Sans, sans-serif"><text x="227.4" y="662" font-size="22" fill="#fff" stroke="#fff" stroke-width="0.6" textLength="45.8" lengthAdjust="spacing">Ch2</text></g>
<text transform="translate(209.3 655.6) scale(0.62 1)" font-family="DejaVu Sans, sans-serif" font-weight="bold" font-size="14" fill="#0c0c9c">B</text>
<text transform="translate(215.2 662) scale(0.56 1)" font-family="DejaVu Sans, sans-serif" font-weight="bold" font-size="14.5" fill="#0c0c9c">W</text>
<path d="M658.5 647H664.5L670 660H676" fill="none" stroke="#111" stroke-width="2.6"/>
<g fill="none" stroke-width="1.5">
<path d="M77.3 667V642.3H224" stroke="#858585"/><path d="M77.3 667H224.2V642.3" stroke="#c4c4c4"/>
<path d="M275.6 667V642.3H422" stroke="#858585"/><path d="M275.6 667H422.4V642.3" stroke="#c4c4c4"/>
<path d="M446.5 667V642.3H536" stroke="#858585"/><path d="M446.5 667H536.2V642.3" stroke="#c4c4c4"/>
<path d="M576.5 668V642.3" stroke="#858585"/><path d="M576.5 668H786.6V642.5" stroke="#c4c4c4"/>
</g>
<rect x="749.8" y="640.3" width="201" height="30" fill="#efefef" fill-opacity="0.3"/>
<text x="765.6" y="661" font-family="Liberation Sans, sans-serif" font-size="19.3" fill="rgb(40,160,40)" fill-opacity="0.32">www.cntronics.com</text>

</svg>
</body></html>
